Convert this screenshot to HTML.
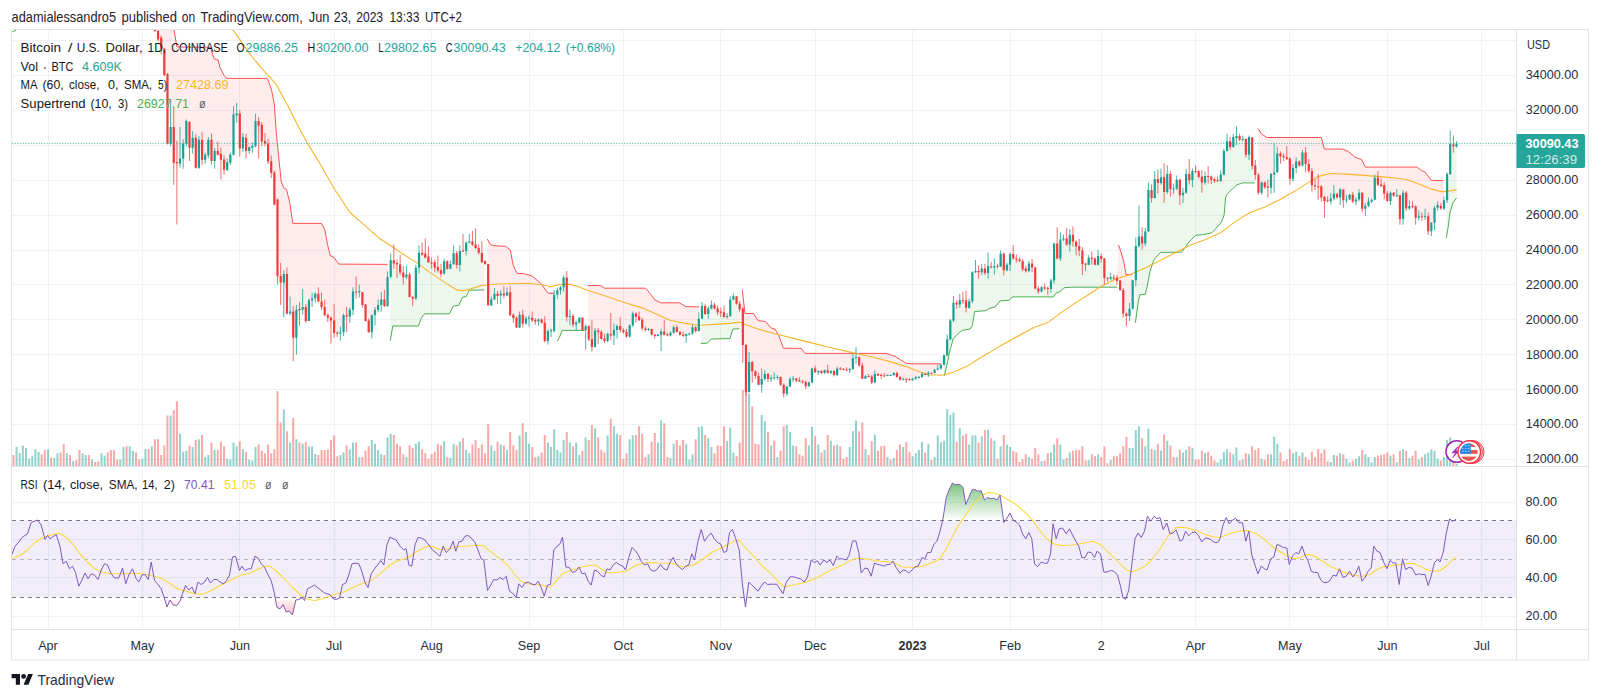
<!DOCTYPE html>
<html lang="en"><head><meta charset="utf-8"><title>BTCUSD chart</title>
<style>html,body{margin:0;padding:0;background:#fff}body{width:1600px;height:699px;position:relative;overflow:hidden;font-family:"Liberation Sans",Arial,sans-serif}</style></head>
<body>
<svg width="1600" height="699" viewBox="0 0 1600 699" style="position:absolute;left:0;top:0">
<defs>
<clipPath id="cm"><rect x="12" y="30" width="1504.5" height="436"/></clipPath>
<clipPath id="cr"><rect x="12" y="467" width="1504.5" height="162"/></clipPath>
<linearGradient id="gob" x1="0" y1="482" x2="0" y2="520.5" gradientUnits="userSpaceOnUse"><stop offset="0" stop-color="#4caf50" stop-opacity="0.75"/><stop offset="1" stop-color="#4caf50" stop-opacity="0.0"/></linearGradient>
<linearGradient id="gos" x1="0" y1="597" x2="0" y2="618" gradientUnits="userSpaceOnUse"><stop offset="0" stop-color="#ff5252" stop-opacity="0.0"/><stop offset="1" stop-color="#ff5252" stop-opacity="0.45"/></linearGradient>
</defs>
<rect x="11.5" y="29.5" width="1577" height="630.5" fill="#fff" stroke="#e0e3eb" stroke-width="1"/>
<path d="M12 40.5H1516.5 M12 75.5H1516.5 M12 110.5H1516.5 M12 145.5H1516.5 M12 180.5H1516.5 M12 215.5H1516.5 M12 250.5H1516.5 M12 284.5H1516.5 M12 319.5H1516.5 M12 354.5H1516.5 M12 389.5H1516.5 M12 424.5H1516.5 M12 459.5H1516.5 M12 502.5H1516.5 M12 539.5H1516.5 M12 577.5H1516.5 M12 616.5H1516.5 M48.5 30V629 M142.5 30V629 M239.5 30V629 M334.5 30V629 M431.5 30V629 M529.5 30V629 M623.5 30V629 M720.5 30V629 M815.5 30V629 M912.5 30V629 M1010.5 30V629 M1101.5 30V629 M1195.5 30V629 M1289.5 30V629 M1387.5 30V629 M1481.5 30V629" stroke="#f1f2f5" stroke-width="1" fill="none"/>
<path d="M12 466.5H1588.5M12 629.5H1588.5M1516.5 30V660" stroke="#e0e3eb" stroke-width="1" fill="none"/>
<g clip-path="url(#cm)">
<path d="M15.56 447.0h2V466h-2zM18.70 453.0h2V466h-2zM21.85 445.5h2V466h-2zM24.99 448.0h2V466h-2zM28.14 458.8h2V466h-2zM31.28 456.2h2V466h-2zM34.42 449.2h2V466h-2zM37.57 451.8h2V466h-2zM47.00 449.2h2V466h-2zM53.29 458.0h2V466h-2zM56.43 453.2h2V466h-2zM65.86 453.2h2V466h-2zM72.15 461.2h2V466h-2zM81.58 453.2h2V466h-2zM84.73 455.0h2V466h-2zM91.02 459.5h2V466h-2zM100.45 453.2h2V466h-2zM103.59 455.8h2V466h-2zM119.31 459.5h2V466h-2zM122.46 447.0h2V466h-2zM128.74 446.2h2V466h-2zM131.89 450.8h2V466h-2zM141.32 458.8h2V466h-2zM144.46 449.2h2V466h-2zM150.75 446.2h2V466h-2zM169.62 415.5h2V466h-2zM179.05 433.8h2V466h-2zM182.19 451.8h2V466h-2zM185.34 450.8h2V466h-2zM191.62 447.0h2V466h-2zM197.91 439.2h2V466h-2zM204.20 457.0h2V466h-2zM207.34 455.0h2V466h-2zM213.63 450.0h2V466h-2zM226.21 458.8h2V466h-2zM229.35 459.5h2V466h-2zM232.50 442.5h2V466h-2zM235.64 446.2h2V466h-2zM241.93 449.2h2V466h-2zM248.22 459.5h2V466h-2zM251.36 460.5h2V466h-2zM254.50 447.0h2V466h-2zM282.80 409.5h2V466h-2zM289.09 442.5h2V466h-2zM295.38 439.2h2V466h-2zM301.66 443.8h2V466h-2zM307.95 446.2h2V466h-2zM311.10 446.2h2V466h-2zM314.24 454.2h2V466h-2zM339.39 455.0h2V466h-2zM342.54 452.5h2V466h-2zM348.82 449.2h2V466h-2zM351.97 442.5h2V466h-2zM358.26 457.0h2V466h-2zM370.83 440.0h2V466h-2zM373.98 443.8h2V466h-2zM377.12 450.0h2V466h-2zM380.26 454.2h2V466h-2zM386.55 437.5h2V466h-2zM389.70 433.8h2V466h-2zM405.42 457.0h2V466h-2zM414.85 443.8h2V466h-2zM417.99 441.8h2V466h-2zM443.14 441.2h2V466h-2zM449.43 458.0h2V466h-2zM452.58 443.8h2V466h-2zM458.86 441.8h2V466h-2zM465.15 450.0h2V466h-2zM468.30 453.2h2V466h-2zM490.30 445.5h2V466h-2zM493.45 450.8h2V466h-2zM499.74 444.5h2V466h-2zM506.02 450.0h2V466h-2zM518.60 435.5h2V466h-2zM524.89 432.0h2V466h-2zM528.03 443.8h2V466h-2zM537.46 456.2h2V466h-2zM546.90 442.5h2V466h-2zM550.04 447.0h2V466h-2zM553.18 429.2h2V466h-2zM556.33 450.0h2V466h-2zM559.47 452.5h2V466h-2zM562.62 440.0h2V466h-2zM568.90 442.5h2V466h-2zM575.19 442.5h2V466h-2zM578.34 455.0h2V466h-2zM584.62 437.5h2V466h-2zM594.06 428.2h2V466h-2zM606.63 435.5h2V466h-2zM612.92 426.2h2V466h-2zM616.06 433.8h2V466h-2zM628.64 439.2h2V466h-2zM631.78 435.5h2V466h-2zM647.50 454.2h2V466h-2zM656.94 442.5h2V466h-2zM660.08 420.5h2V466h-2zM669.51 458.0h2V466h-2zM672.66 443.8h2V466h-2zM685.23 443.8h2V466h-2zM688.38 459.5h2V466h-2zM691.52 454.2h2V466h-2zM697.81 427.0h2V466h-2zM700.95 426.2h2V466h-2zM707.24 438.2h2V466h-2zM710.38 447.0h2V466h-2zM726.10 440.8h2V466h-2zM729.25 427.5h2V466h-2zM732.39 452.5h2V466h-2zM748.11 393.8h2V466h-2zM760.69 415.0h2V466h-2zM763.83 421.2h2V466h-2zM770.12 445.5h2V466h-2zM776.41 457.0h2V466h-2zM785.84 425.0h2V466h-2zM788.98 432.0h2V466h-2zM792.13 445.5h2V466h-2zM807.85 445.5h2V466h-2zM810.99 426.8h2V466h-2zM817.28 444.5h2V466h-2zM823.57 450.0h2V466h-2zM829.86 440.8h2V466h-2zM836.14 444.5h2V466h-2zM848.72 447.0h2V466h-2zM851.86 431.2h2V466h-2zM855.01 420.5h2V466h-2zM864.44 449.2h2V466h-2zM873.87 434.5h2V466h-2zM886.45 457.0h2V466h-2zM892.74 458.0h2V466h-2zM902.17 447.0h2V466h-2zM911.60 456.2h2V466h-2zM914.74 453.2h2V466h-2zM917.89 450.0h2V466h-2zM921.03 441.8h2V466h-2zM927.32 443.8h2V466h-2zM933.61 457.0h2V466h-2zM936.75 435.5h2V466h-2zM939.90 442.5h2V466h-2zM943.04 440.8h2V466h-2zM946.18 409.2h2V466h-2zM949.33 415.0h2V466h-2zM952.47 412.5h2V466h-2zM958.76 428.2h2V466h-2zM968.19 444.5h2V466h-2zM971.34 435.5h2V466h-2zM974.48 435.5h2V466h-2zM980.77 436.2h2V466h-2zM987.06 430.0h2V466h-2zM993.34 440.8h2V466h-2zM999.63 446.2h2V466h-2zM1005.92 444.5h2V466h-2zM1009.06 447.0h2V466h-2zM1027.93 457.0h2V466h-2zM1040.50 461.2h2V466h-2zM1049.94 452.5h2V466h-2zM1053.08 444.5h2V466h-2zM1059.37 444.5h2V466h-2zM1062.51 459.5h2V466h-2zM1068.80 452.5h2V466h-2zM1087.66 460.0h2V466h-2zM1097.10 454.2h2V466h-2zM1109.67 460.0h2V466h-2zM1128.54 448.0h2V466h-2zM1131.68 448.0h2V466h-2zM1134.82 430.0h2V466h-2zM1137.97 426.2h2V466h-2zM1144.26 446.2h2V466h-2zM1147.40 428.8h2V466h-2zM1153.69 450.0h2V466h-2zM1159.98 450.8h2V466h-2zM1166.26 440.8h2V466h-2zM1175.70 457.0h2V466h-2zM1181.98 452.5h2V466h-2zM1185.13 450.0h2V466h-2zM1191.42 448.0h2V466h-2zM1203.99 453.2h2V466h-2zM1216.57 462.5h2V466h-2zM1219.71 459.5h2V466h-2zM1222.86 451.8h2V466h-2zM1226.00 449.2h2V466h-2zM1232.29 454.2h2V466h-2zM1235.43 447.5h2V466h-2zM1241.72 459.5h2V466h-2zM1248.01 454.2h2V466h-2zM1260.58 458.8h2V466h-2zM1270.02 454.2h2V466h-2zM1273.16 436.8h2V466h-2zM1276.30 443.8h2V466h-2zM1292.02 453.2h2V466h-2zM1295.17 451.8h2V466h-2zM1301.46 452.5h2V466h-2zM1329.75 462.0h2V466h-2zM1332.90 455.0h2V466h-2zM1339.18 453.2h2V466h-2zM1345.47 458.8h2V466h-2zM1348.62 462.5h2V466h-2zM1354.90 458.8h2V466h-2zM1358.05 456.2h2V466h-2zM1364.34 454.2h2V466h-2zM1367.48 457.0h2V466h-2zM1370.62 462.5h2V466h-2zM1373.77 457.0h2V466h-2zM1389.49 455.8h2V466h-2zM1395.78 462.0h2V466h-2zM1402.06 449.2h2V466h-2zM1408.35 458.0h2V466h-2zM1417.78 459.5h2V466h-2zM1424.07 454.2h2V466h-2zM1427.22 452.5h2V466h-2zM1430.36 449.2h2V466h-2zM1433.50 450.8h2V466h-2zM1436.65 458.8h2V466h-2zM1442.94 457.0h2V466h-2zM1446.08 440.0h2V466h-2zM1449.22 437.5h2V466h-2zM1455.51 463.8h2V466h-2z" fill="#26a69a" fill-opacity="0.5"/>
<path d="M12.42 455.0h2V466h-2zM40.71 454.2h2V466h-2zM43.86 450.0h2V466h-2zM50.14 457.5h2V466h-2zM59.58 452.5h2V466h-2zM62.72 443.8h2V466h-2zM69.01 455.0h2V466h-2zM75.30 460.0h2V466h-2zM78.44 450.0h2V466h-2zM87.87 455.0h2V466h-2zM94.16 462.0h2V466h-2zM97.30 461.2h2V466h-2zM106.74 452.5h2V466h-2zM109.88 450.0h2V466h-2zM113.02 450.0h2V466h-2zM116.17 459.5h2V466h-2zM125.60 446.2h2V466h-2zM135.03 452.5h2V466h-2zM138.18 459.5h2V466h-2zM147.61 449.2h2V466h-2zM153.90 439.2h2V466h-2zM157.04 439.2h2V466h-2zM160.18 455.0h2V466h-2zM163.33 445.5h2V466h-2zM166.47 415.5h2V466h-2zM172.76 410.0h2V466h-2zM175.90 401.2h2V466h-2zM188.48 445.5h2V466h-2zM194.77 440.0h2V466h-2zM201.06 435.0h2V466h-2zM210.49 442.5h2V466h-2zM216.78 450.0h2V466h-2zM219.92 441.8h2V466h-2zM223.06 446.2h2V466h-2zM238.78 441.2h2V466h-2zM245.07 451.8h2V466h-2zM257.65 444.5h2V466h-2zM260.79 450.8h2V466h-2zM263.94 453.2h2V466h-2zM267.08 444.5h2V466h-2zM270.22 453.2h2V466h-2zM273.37 449.2h2V466h-2zM276.51 391.2h2V466h-2zM279.66 422.5h2V466h-2zM285.94 431.2h2V466h-2zM292.23 418.0h2V466h-2zM298.52 442.5h2V466h-2zM304.81 441.8h2V466h-2zM317.38 455.0h2V466h-2zM320.53 450.0h2V466h-2zM323.67 450.0h2V466h-2zM326.82 449.2h2V466h-2zM329.96 440.0h2V466h-2zM333.10 435.5h2V466h-2zM336.25 456.2h2V466h-2zM345.68 445.5h2V466h-2zM355.11 442.5h2V466h-2zM361.40 457.0h2V466h-2zM364.54 450.8h2V466h-2zM367.69 446.2h2V466h-2zM383.41 455.0h2V466h-2zM392.84 435.0h2V466h-2zM395.98 443.8h2V466h-2zM399.13 446.2h2V466h-2zM402.27 454.2h2V466h-2zM408.56 445.5h2V466h-2zM411.70 448.0h2V466h-2zM421.14 449.2h2V466h-2zM424.28 453.2h2V466h-2zM427.42 458.8h2V466h-2zM430.57 454.2h2V466h-2zM433.71 451.8h2V466h-2zM436.86 443.8h2V466h-2zM440.00 445.5h2V466h-2zM446.29 457.0h2V466h-2zM455.72 445.5h2V466h-2zM462.01 438.2h2V466h-2zM471.44 444.5h2V466h-2zM474.58 440.0h2V466h-2zM477.73 448.0h2V466h-2zM480.87 444.5h2V466h-2zM484.02 453.2h2V466h-2zM487.16 424.2h2V466h-2zM496.59 441.8h2V466h-2zM502.88 445.5h2V466h-2zM509.17 432.0h2V466h-2zM512.31 445.5h2V466h-2zM515.46 450.0h2V466h-2zM521.74 423.2h2V466h-2zM531.18 447.0h2V466h-2zM534.32 457.0h2V466h-2zM540.61 452.5h2V466h-2zM543.75 435.0h2V466h-2zM565.76 432.0h2V466h-2zM572.05 446.2h2V466h-2zM581.48 450.8h2V466h-2zM587.77 440.0h2V466h-2zM590.91 425.0h2V466h-2zM597.20 437.5h2V466h-2zM600.34 450.0h2V466h-2zM603.49 452.5h2V466h-2zM609.78 418.8h2V466h-2zM619.21 435.0h2V466h-2zM622.35 458.8h2V466h-2zM625.50 453.2h2V466h-2zM634.93 435.0h2V466h-2zM638.07 426.2h2V466h-2zM641.22 433.8h2V466h-2zM644.36 457.0h2V466h-2zM650.65 441.8h2V466h-2zM653.79 433.0h2V466h-2zM663.22 423.2h2V466h-2zM666.37 457.0h2V466h-2zM675.80 440.0h2V466h-2zM678.94 445.5h2V466h-2zM682.09 440.0h2V466h-2zM694.66 439.2h2V466h-2zM704.10 435.0h2V466h-2zM713.53 453.2h2V466h-2zM716.67 445.5h2V466h-2zM719.82 446.2h2V466h-2zM722.96 426.2h2V466h-2zM735.54 456.2h2V466h-2zM738.68 442.5h2V466h-2zM741.82 390.0h2V466h-2zM744.97 388.0h2V466h-2zM751.26 406.2h2V466h-2zM754.40 443.8h2V466h-2zM757.54 444.5h2V466h-2zM766.98 432.0h2V466h-2zM773.26 440.8h2V466h-2zM779.55 450.8h2V466h-2zM782.70 426.2h2V466h-2zM795.27 446.2h2V466h-2zM798.42 454.2h2V466h-2zM801.56 455.8h2V466h-2zM804.70 438.2h2V466h-2zM814.14 436.2h2V466h-2zM820.42 452.5h2V466h-2zM826.71 435.0h2V466h-2zM833.00 445.5h2V466h-2zM839.29 446.2h2V466h-2zM842.43 458.8h2V466h-2zM845.58 457.0h2V466h-2zM858.15 431.2h2V466h-2zM861.30 422.5h2V466h-2zM867.58 455.0h2V466h-2zM870.73 441.2h2V466h-2zM877.02 450.8h2V466h-2zM880.16 446.2h2V466h-2zM883.30 445.5h2V466h-2zM889.59 459.5h2V466h-2zM895.88 450.0h2V466h-2zM899.02 444.5h2V466h-2zM905.31 442.0h2V466h-2zM908.46 451.8h2V466h-2zM924.18 452.5h2V466h-2zM930.46 460.0h2V466h-2zM955.62 441.8h2V466h-2zM961.90 435.5h2V466h-2zM965.05 433.8h2V466h-2zM977.62 442.5h2V466h-2zM983.91 430.0h2V466h-2zM990.20 438.2h2V466h-2zM996.49 458.8h2V466h-2zM1002.78 435.0h2V466h-2zM1012.21 450.8h2V466h-2zM1015.35 452.5h2V466h-2zM1018.50 462.0h2V466h-2zM1021.64 459.5h2V466h-2zM1024.78 454.2h2V466h-2zM1031.07 458.8h2V466h-2zM1034.22 448.0h2V466h-2zM1037.36 454.2h2V466h-2zM1043.65 460.5h2V466h-2zM1046.79 453.2h2V466h-2zM1056.22 438.2h2V466h-2zM1065.66 458.0h2V466h-2zM1071.94 450.8h2V466h-2zM1075.09 450.0h2V466h-2zM1078.23 450.0h2V466h-2zM1081.38 446.2h2V466h-2zM1084.52 460.5h2V466h-2zM1090.81 454.2h2V466h-2zM1093.95 456.2h2V466h-2zM1100.24 457.0h2V466h-2zM1103.38 446.2h2V466h-2zM1106.53 463.2h2V466h-2zM1112.82 456.2h2V466h-2zM1115.96 456.2h2V466h-2zM1119.10 453.2h2V466h-2zM1122.25 446.2h2V466h-2zM1125.39 437.0h2V466h-2zM1141.11 438.2h2V466h-2zM1150.54 448.8h2V466h-2zM1156.83 443.8h2V466h-2zM1163.12 434.5h2V466h-2zM1169.41 445.5h2V466h-2zM1172.55 457.0h2V466h-2zM1178.84 450.0h2V466h-2zM1188.27 446.2h2V466h-2zM1194.56 459.5h2V466h-2zM1197.70 459.5h2V466h-2zM1200.85 450.8h2V466h-2zM1207.14 451.8h2V466h-2zM1210.28 455.8h2V466h-2zM1213.42 460.5h2V466h-2zM1229.14 452.5h2V466h-2zM1238.58 460.5h2V466h-2zM1244.86 453.2h2V466h-2zM1251.15 446.2h2V466h-2zM1254.30 450.0h2V466h-2zM1257.44 448.0h2V466h-2zM1263.73 460.0h2V466h-2zM1266.87 454.2h2V466h-2zM1279.45 452.5h2V466h-2zM1282.59 461.2h2V466h-2zM1285.74 459.5h2V466h-2zM1288.88 449.2h2V466h-2zM1298.31 455.8h2V466h-2zM1304.60 457.0h2V466h-2zM1307.74 460.0h2V466h-2zM1310.89 451.8h2V466h-2zM1314.03 457.0h2V466h-2zM1317.18 449.2h2V466h-2zM1320.32 453.2h2V466h-2zM1323.46 449.2h2V466h-2zM1326.61 461.2h2V466h-2zM1336.04 455.8h2V466h-2zM1342.33 454.2h2V466h-2zM1351.76 460.5h2V466h-2zM1361.19 450.0h2V466h-2zM1376.91 455.8h2V466h-2zM1380.06 455.0h2V466h-2zM1383.20 454.2h2V466h-2zM1386.34 452.5h2V466h-2zM1392.63 454.2h2V466h-2zM1398.92 450.8h2V466h-2zM1405.21 450.8h2V466h-2zM1411.50 455.8h2V466h-2zM1414.64 450.8h2V466h-2zM1420.93 457.0h2V466h-2zM1439.79 460.5h2V466h-2zM1452.37 459.5h2V466h-2z" fill="#ef5350" fill-opacity="0.5"/>
<polygon points="137.5,18.7 174.1,26.2 174.1,30.0 176.9,46.9 210.6,47.3 212.5,54.4 214.4,59.1 218.1,60.0 220.0,67.5 223.8,75.0 226.6,78.4 267.4,78.4 271.6,90.0 274.4,105.0 276.3,133.1 279.1,161.1 281.3,181.9 284.1,188.4 286.5,189.4 289.7,202.5 292.5,221.1 292.8,223.4 321.5,223.4 324.7,229.4 327.5,244.4 330.3,255.6 334.1,257.5 338.8,264.1 387.5,264.4 387.6,290.2 384.4,300.5 381.3,302.0 378.1,306.6 375.0,314.4 371.8,325.1 368.7,326.0 365.5,312.8 362.4,299.2 359.3,291.4 356.1,289.7 353.0,300.9 349.8,314.2 346.7,317.8 343.5,324.2 340.4,333.2 337.2,333.6 334.1,323.8 331.0,324.5 327.8,317.1 324.7,309.5 321.5,302.8 318.4,296.2 315.2,296.6 312.1,299.6 309.0,310.2 305.8,313.7 302.7,305.0 299.5,311.8 296.4,326.8 293.2,329.1 290.1,309.2 286.9,292.3 283.8,286.0 280.7,281.6 277.5,239.7 274.4,188.2 271.2,167.0 268.1,152.0 264.9,141.0 261.8,133.6 258.6,130.5 255.5,132.0 252.4,147.2 249.2,149.5 246.1,145.3 242.9,142.6 239.8,132.0 236.6,113.7 233.5,132.7 230.4,158.8 227.2,165.4 224.1,164.9 220.9,160.1 217.8,150.7 214.6,157.2 211.5,149.7 208.3,147.7 205.2,157.7 202.1,149.2 198.9,153.0 195.8,152.1 192.6,142.6 189.5,137.9 186.3,132.6 183.2,152.4 180.0,154.2 176.9,172.7 173.8,145.4 170.6,129.0 167.5,108.8 164.3,61.9 161.2,44.1 158.0,34.5 154.9,9.6 151.8,-60.0 148.6,-60.0 145.5,-60.0 142.3,-60.0 139.2,-60.0 136.0,-60.0" fill="#ff5252" fill-opacity="0.1"/>
<polygon points="390.3,340.6 392.8,326.0 418.4,326.0 421.3,318.1 424.1,314.4 425.0,313.8 449.4,313.8 453.1,306.3 458.8,305.3 462.5,297.3 466.3,296.5 469.1,290.3 484.4,289.9 485.0,262.7 481.9,254.9 478.7,250.0 475.6,242.5 472.4,240.8 469.3,240.4 466.2,247.7 463.0,247.0 459.9,258.2 456.7,259.5 453.6,256.9 450.4,265.5 447.3,265.0 444.1,266.9 441.0,271.4 437.9,266.4 434.7,265.5 431.6,263.0 428.4,257.0 425.3,252.0 422.1,251.4 419.0,259.8 415.8,282.7 412.7,299.4 409.6,285.3 406.4,274.1 403.3,275.1 400.1,266.8 397.0,266.3 393.8,259.2 390.7,267.2" fill="#4caf50" fill-opacity="0.1"/>
<polygon points="487.3,239.1 490.6,244.8 496.3,245.9 505.6,246.3 510.3,250.0 513.1,265.0 516.9,273.4 524.4,273.8 531.9,275.9 541.3,283.8 547.8,293.1 553.4,293.5 550.0,293.4 553.8,293.4 554.2,312.0 551.0,331.7 547.9,336.5 544.8,330.6 541.6,321.2 538.5,321.3 535.3,321.1 532.2,317.9 529.0,319.5 525.9,320.7 522.7,318.9 519.6,320.4 516.5,322.3 513.3,317.3 510.2,302.5 507.0,292.9 503.9,293.4 500.7,295.8 497.6,296.2 494.4,295.4 491.3,301.8 488.2,284.7" fill="#ff5252" fill-opacity="0.1"/>
<polygon points="557.1,341.3 559.4,337.5 562.2,330.4 584.7,330.4 585.6,332.6 582.5,323.9 579.3,320.2 576.2,324.6 573.0,320.4 569.9,316.9 566.8,296.7 563.6,283.0 560.5,289.5 557.3,293.0" fill="#4caf50" fill-opacity="0.1"/>
<polygon points="587.5,285.6 600.6,285.6 604.4,288.2 645.6,288.2 649.4,292.5 655.0,300.0 660.6,302.8 679.4,302.8 685.9,306.6 699.1,306.9 698.8,323.3 695.7,329.2 692.5,329.9 689.4,333.9 686.2,336.7 683.1,334.9 679.9,333.3 676.8,329.1 673.7,329.8 670.5,334.0 667.4,334.8 664.2,330.4 661.1,336.4 657.9,335.3 654.8,335.7 651.6,332.0 648.5,329.5 645.4,329.1 642.2,324.1 639.1,317.3 635.9,316.3 632.8,319.4 629.6,330.9 626.5,333.8 623.4,331.0 620.2,326.4 617.1,329.7 613.9,333.5 610.8,330.7 607.6,337.4 604.5,339.0 601.3,335.2 598.2,333.6 595.1,338.2 591.9,339.4 588.8,333.0" fill="#ff5252" fill-opacity="0.1"/>
<polygon points="700.9,343.5 707.5,343.1 711.3,339.0 730.0,338.6 732.8,329.1 739.4,328.7 739.7,306.6 736.5,300.1 733.4,297.3 730.2,307.2 727.1,316.2 724.0,313.1 720.8,312.2 717.7,310.3 714.5,306.3 711.4,305.7 708.2,312.0 705.1,309.7 702.0,311.4" fill="#4caf50" fill-opacity="0.1"/>
<polygon points="742.2,289.7 745.0,313.5 753.4,313.5 758.1,320.6 765.6,321.6 771.3,328.1 775.0,329.1 778.8,335.6 783.4,348.2 801.3,348.4 805.0,353.4 885.6,353.4 895.0,356.3 906.3,363.4 911.9,363.8 940.9,363.8 940.9,366.6 937.8,368.3 934.6,371.3 931.5,372.9 928.3,373.9 925.2,374.1 922.0,375.2 918.9,377.1 915.7,377.9 912.6,379.4 909.5,379.6 906.3,379.9 903.2,379.2 900.0,378.3 896.9,374.9 893.7,374.1 890.6,375.1 887.4,375.5 884.3,375.2 881.2,375.7 878.0,374.6 874.9,377.4 871.7,379.5 868.6,375.9 865.4,377.2 862.3,371.6 859.2,361.4 856.0,356.6 852.9,362.6 849.7,370.1 846.6,369.6 843.4,369.2 840.3,368.8 837.1,371.5 834.0,373.2 830.9,372.0 827.7,370.3 824.6,371.7 821.4,372.1 818.3,372.1 815.1,369.8 812.0,375.5 808.8,384.3 805.7,384.4 802.6,381.8 799.4,380.3 796.3,379.8 793.1,378.9 790.0,382.5 786.8,390.7 783.7,389.9 780.6,381.0 777.4,377.2 774.3,376.7 771.1,378.5 768.0,377.0 764.8,376.0 761.7,381.3 758.5,379.5 755.4,374.1 752.3,369.1 749.1,374.7 746.0,369.1 742.8,330.7" fill="#ff5252" fill-opacity="0.1"/>
<polygon points="944.3,375.9 947.5,361.9 950.3,348.8 951.3,346.1 953.1,338.8 958.8,332.8 962.5,330.3 970.0,329.0 972.3,325.6 974.7,311.6 985.9,310.6 989.7,308.4 995.3,306.9 1000.0,300.9 1009.4,300.3 1012.2,296.9 1053.4,296.9 1056.3,292.8 1060.0,291.9 1063.8,287.8 1071.3,287.2 1117.2,287.2 1117.0,279.5 1113.8,277.4 1110.7,277.3 1107.5,278.8 1104.4,269.7 1101.2,257.8 1098.1,259.0 1095.0,261.4 1091.8,258.3 1088.7,260.8 1085.5,265.4 1082.4,259.2 1079.2,248.0 1076.1,245.9 1072.9,237.4 1069.8,240.0 1066.7,239.3 1063.5,238.4 1060.4,247.8 1057.2,247.2 1054.1,262.6 1050.9,285.3 1047.8,289.5 1044.6,287.3 1041.5,289.2 1038.4,290.0 1035.2,278.0 1032.1,265.5 1028.9,266.8 1025.8,269.4 1022.6,265.2 1019.5,259.9 1016.4,258.8 1013.2,254.3 1010.1,260.5 1006.9,267.3 1003.8,263.0 1000.6,259.4 997.5,266.1 994.3,266.7 991.2,266.1 988.1,267.5 984.9,270.1 981.8,269.9 978.6,271.9 975.5,269.0 972.3,287.0 969.2,304.1 966.0,302.9 962.9,299.3 959.8,301.6 956.6,304.1 953.5,310.3 950.3,329.8 947.2,346.3 944.0,360.0" fill="#4caf50" fill-opacity="0.1"/>
<polygon points="1118.5,245.0 1120.9,251.6 1123.8,261.9 1126.0,274.6 1132.2,274.6 1132.7,294.6 1129.5,312.1 1126.4,317.1 1123.2,302.3 1120.1,285.3 1117.0,279.5" fill="#ff5252" fill-opacity="0.1"/>
<polygon points="1135.4,322.8 1137.8,305.0 1139.7,294.7 1145.3,294.3 1147.2,286.3 1150.0,271.3 1153.8,260.0 1160.3,252.5 1181.9,252.1 1185.6,246.9 1189.4,241.3 1195.9,235.3 1202.5,234.7 1211.9,232.8 1221.3,222.5 1224.1,215.0 1225.6,197.5 1226.6,194.7 1231.3,190.0 1236.9,184.8 1242.5,182.9 1254.7,182.9 1255.3,170.1 1252.2,152.5 1249.0,146.9 1245.9,147.5 1242.7,138.8 1239.6,137.5 1236.4,136.3 1233.3,141.4 1230.1,143.6 1227.0,144.4 1223.9,162.4 1220.7,177.0 1217.6,180.0 1214.4,180.3 1211.3,178.9 1208.1,175.6 1205.0,178.6 1201.8,180.5 1198.7,174.3 1195.6,170.2 1192.4,176.7 1189.3,174.4 1186.1,182.3 1183.0,194.7 1179.8,189.7 1176.7,183.4 1173.6,188.7 1170.4,182.7 1167.3,181.3 1164.1,183.8 1161.0,178.3 1157.8,181.2 1154.7,186.6 1151.5,193.8 1148.4,209.0 1145.3,237.3 1142.1,239.2 1139.0,234.0 1135.8,262.5" fill="#4caf50" fill-opacity="0.1"/>
<polygon points="1258.1,128.5 1261.3,133.8 1266.9,137.5 1321.3,137.5 1324.4,149.1 1342.8,149.1 1348.4,151.6 1355.0,157.2 1361.6,159.6 1365.3,167.1 1416.9,167.1 1421.9,170.9 1424.7,171.6 1431.3,180.3 1443.4,180.6 1443.9,203.8 1440.8,206.8 1437.6,206.2 1434.5,216.7 1431.4,228.0 1428.2,223.8 1425.1,215.5 1421.9,216.7 1418.8,216.3 1415.6,213.6 1412.5,205.6 1409.4,206.1 1406.2,200.8 1403.1,206.6 1399.9,208.4 1396.8,194.3 1393.6,194.4 1390.5,197.5 1387.3,196.7 1384.2,190.2 1381.1,184.0 1377.9,179.8 1374.8,188.1 1371.6,200.7 1368.5,203.0 1365.3,208.5 1362.2,201.6 1359.0,195.6 1355.9,200.9 1352.8,197.8 1349.6,197.0 1346.5,199.4 1343.3,196.7 1340.2,195.1 1337.0,195.7 1333.9,194.5 1330.8,199.3 1327.6,200.1 1324.5,202.8 1321.3,192.7 1318.2,186.7 1315.0,185.2 1311.9,178.9 1308.7,166.8 1305.6,158.9 1302.5,158.6 1299.3,163.6 1296.2,164.9 1293.0,173.1 1289.9,169.8 1286.7,155.5 1283.6,156.9 1280.4,156.3 1277.3,161.4 1274.2,170.7 1271.0,182.2 1267.9,187.9 1264.7,185.1 1261.6,187.9 1258.4,183.9" fill="#ff5252" fill-opacity="0.1"/>
<polygon points="1446.3,237.8 1448.1,227.5 1450.0,212.5 1452.8,203.1 1456.6,197.9 1456.5,144.8 1453.4,144.8 1450.2,155.9 1447.1,187.4" fill="#4caf50" fill-opacity="0.1"/>
<polyline points="137.5,18.7 174.1,26.2 174.1,30.0 176.9,46.9 210.6,47.3 212.5,54.4 214.4,59.1 218.1,60.0 220.0,67.5 223.8,75.0 226.6,78.4 267.4,78.4 271.6,90.0 274.4,105.0 276.3,133.1 279.1,161.1 281.3,181.9 284.1,188.4 286.5,189.4 289.7,202.5 292.5,221.1 292.8,223.4 321.5,223.4 324.7,229.4 327.5,244.4 330.3,255.6 334.1,257.5 338.8,264.1 387.5,264.4" fill="none" stroke="#ff5252" stroke-width="1" stroke-linejoin="round"/>
<polyline points="390.3,340.6 392.8,326.0 418.4,326.0 421.3,318.1 424.1,314.4 425.0,313.8 449.4,313.8 453.1,306.3 458.8,305.3 462.5,297.3 466.3,296.5 469.1,290.3 484.4,289.9" fill="none" stroke="#4caf50" stroke-width="1" stroke-linejoin="round"/>
<polyline points="487.3,239.1 490.6,244.8 496.3,245.9 505.6,246.3 510.3,250.0 513.1,265.0 516.9,273.4 524.4,273.8 531.9,275.9 541.3,283.8 547.8,293.1 553.4,293.5 550.0,293.4 553.8,293.4" fill="none" stroke="#ff5252" stroke-width="1" stroke-linejoin="round"/>
<polyline points="557.1,341.3 559.4,337.5 562.2,330.4 584.7,330.4" fill="none" stroke="#4caf50" stroke-width="1" stroke-linejoin="round"/>
<polyline points="587.5,285.6 600.6,285.6 604.4,288.2 645.6,288.2 649.4,292.5 655.0,300.0 660.6,302.8 679.4,302.8 685.9,306.6 699.1,306.9" fill="none" stroke="#ff5252" stroke-width="1" stroke-linejoin="round"/>
<polyline points="700.9,343.5 707.5,343.1 711.3,339.0 730.0,338.6 732.8,329.1 739.4,328.7" fill="none" stroke="#4caf50" stroke-width="1" stroke-linejoin="round"/>
<polyline points="742.2,289.7 745.0,313.5 753.4,313.5 758.1,320.6 765.6,321.6 771.3,328.1 775.0,329.1 778.8,335.6 783.4,348.2 801.3,348.4 805.0,353.4 885.6,353.4 895.0,356.3 906.3,363.4 911.9,363.8 940.9,363.8" fill="none" stroke="#ff5252" stroke-width="1" stroke-linejoin="round"/>
<polyline points="944.3,375.9 947.5,361.9 950.3,348.8 951.3,346.1 953.1,338.8 958.8,332.8 962.5,330.3 970.0,329.0 972.3,325.6 974.7,311.6 985.9,310.6 989.7,308.4 995.3,306.9 1000.0,300.9 1009.4,300.3 1012.2,296.9 1053.4,296.9 1056.3,292.8 1060.0,291.9 1063.8,287.8 1071.3,287.2 1117.2,287.2" fill="none" stroke="#4caf50" stroke-width="1" stroke-linejoin="round"/>
<polyline points="1118.5,245.0 1120.9,251.6 1123.8,261.9 1126.0,274.6 1132.2,274.6" fill="none" stroke="#ff5252" stroke-width="1" stroke-linejoin="round"/>
<polyline points="1135.4,322.8 1137.8,305.0 1139.7,294.7 1145.3,294.3 1147.2,286.3 1150.0,271.3 1153.8,260.0 1160.3,252.5 1181.9,252.1 1185.6,246.9 1189.4,241.3 1195.9,235.3 1202.5,234.7 1211.9,232.8 1221.3,222.5 1224.1,215.0 1225.6,197.5 1226.6,194.7 1231.3,190.0 1236.9,184.8 1242.5,182.9 1254.7,182.9" fill="none" stroke="#4caf50" stroke-width="1" stroke-linejoin="round"/>
<polyline points="1258.1,128.5 1261.3,133.8 1266.9,137.5 1321.3,137.5 1324.4,149.1 1342.8,149.1 1348.4,151.6 1355.0,157.2 1361.6,159.6 1365.3,167.1 1416.9,167.1 1421.9,170.9 1424.7,171.6 1431.3,180.3 1443.4,180.6" fill="none" stroke="#ff5252" stroke-width="1" stroke-linejoin="round"/>
<polyline points="1446.3,237.8 1448.1,227.5 1450.0,212.5 1452.8,203.1 1456.6,197.9" fill="none" stroke="#4caf50" stroke-width="1" stroke-linejoin="round"/>
<polyline points="220.0,15.0 233.1,30.0 239.7,39.4 250.0,54.4 265.0,72.2 276.3,84.4 287.5,105.0 298.8,127.5 308.1,144.4 318.4,161.1 335.0,190.0 342.5,201.3 350.0,212.5 365.0,225.6 380.0,238.8 391.3,246.3 402.5,253.8 417.5,263.1 428.8,271.6 440.0,279.1 449.4,285.6 456.9,289.9 462.5,290.9 470.0,289.0 481.3,285.6 492.5,284.3 507.5,283.8 528.1,283.2 541.3,284.7 548.8,286.2 550.0,286.9 559.4,284.6 568.8,284.1 578.1,286.5 587.5,290.3 606.3,296.3 625.0,302.8 643.8,308.4 655.0,313.5 670.0,320.3 685.0,323.4 700.0,325.3 715.0,324.4 730.0,323.4 739.4,322.1 745.0,324.4 756.3,328.5 775.0,333.8 793.8,338.4 812.5,343.1 831.3,347.8 850.0,352.1 868.8,356.3 887.5,360.9 906.3,366.6 917.5,370.9 928.8,375.0 943.8,375.0 953.1,372.2 966.3,366.6 981.3,357.2 992.5,350.6 1000.0,346.1 1015.0,337.8 1033.8,327.5 1048.8,321.9 1060.0,313.4 1075.0,303.1 1090.0,293.8 1101.3,286.3 1116.3,278.8 1127.5,275.4 1135.0,272.2 1146.3,267.5 1190.0,245.3 1205.0,239.7 1220.0,233.1 1235.0,221.9 1250.0,212.5 1265.0,206.9 1280.0,199.4 1295.0,190.9 1310.0,181.6 1317.5,176.9 1325.0,174.6 1332.5,173.5 1345.6,174.1 1364.4,175.4 1383.1,176.9 1401.9,178.8 1408.8,180.3 1421.9,185.3 1431.3,189.1 1442.5,191.9 1450.0,190.9 1456.6,189.6" fill="none" stroke="#f9b52e" stroke-width="1.1" stroke-linejoin="round"/>
<path d="M170.12 99.4h1V146.3h-1zM179.55 126.9h1V167.8h-1zM182.69 139.1h1V168.8h-1zM185.84 119.6h1V146.3h-1zM192.12 131.3h1V153.8h-1zM198.41 135.9h1V168.8h-1zM204.70 152.8h1V163.5h-1zM207.84 136.9h1V158.4h-1zM214.13 148.1h1V168.8h-1zM226.71 158.4h1V170.6h-1zM229.85 152.8h1V165.0h-1zM233.00 105.9h1V155.6h-1zM236.14 103.1h1V122.8h-1zM242.43 133.1h1V151.9h-1zM248.72 146.3h1V153.8h-1zM251.86 142.5h1V152.8h-1zM255.00 113.8h1V147.2h-1zM283.30 270.3h1V317.2h-1zM289.59 296.6h1V315.3h-1zM295.88 305.0h1V354.7h-1zM302.16 289.1h1V314.4h-1zM308.45 298.4h1V320.9h-1zM311.60 292.8h1V306.9h-1zM314.74 291.9h1V302.2h-1zM339.89 326.6h1V340.6h-1zM343.04 313.4h1V335.9h-1zM349.32 307.8h1V322.8h-1zM352.47 287.2h1V315.3h-1zM358.76 284.8h1V297.5h-1zM371.33 314.4h1V338.4h-1zM374.48 306.9h1V325.6h-1zM377.62 299.4h1V312.5h-1zM380.76 291.9h1V311.6h-1zM387.05 271.3h1V306.9h-1zM390.20 253.4h1V278.1h-1zM405.92 265.9h1V279.1h-1zM415.35 265.0h1V299.7h-1zM418.49 245.3h1V273.4h-1zM443.64 258.4h1V274.4h-1zM449.93 260.3h1V268.8h-1zM453.08 245.3h1V265.0h-1zM459.36 245.3h1V271.6h-1zM465.65 241.6h1V255.6h-1zM468.80 234.1h1V243.4h-1zM490.80 296.6h1V305.9h-1zM493.95 288.1h1V300.3h-1zM500.24 290.0h1V304.1h-1zM506.52 287.2h1V296.6h-1zM519.10 311.6h1V327.9h-1zM525.39 316.3h1V324.7h-1zM528.53 315.3h1V326.6h-1zM537.96 318.5h1V325.6h-1zM547.40 329.4h1V344.4h-1zM550.54 328.4h1V336.9h-1zM553.68 290.0h1V332.2h-1zM556.83 287.8h1V299.1h-1zM559.97 285.9h1V294.4h-1zM563.12 275.6h1V291.6h-1zM569.40 309.4h1V325.3h-1zM575.69 320.6h1V330.9h-1zM578.84 316.9h1V323.4h-1zM585.12 324.4h1V349.7h-1zM594.56 328.1h1V347.3h-1zM607.13 332.8h1V342.2h-1zM613.42 323.4h1V345.0h-1zM616.56 324.4h1V338.4h-1zM629.14 324.4h1V337.5h-1zM632.28 311.6h1V327.2h-1zM648.00 328.1h1V330.9h-1zM657.44 333.8h1V336.6h-1zM660.58 328.5h1V351.0h-1zM670.01 330.9h1V336.6h-1zM673.16 325.3h1V333.8h-1zM685.73 333.8h1V342.8h-1zM688.88 332.8h1V335.3h-1zM692.02 324.4h1V334.7h-1zM698.31 312.2h1V331.5h-1zM701.45 301.9h1V319.1h-1zM707.74 306.6h1V318.8h-1zM710.88 300.4h1V309.4h-1zM726.60 313.1h1V318.8h-1zM729.75 296.3h1V316.9h-1zM732.89 293.4h1V300.0h-1zM748.61 352.1h1V392.8h-1zM761.19 368.4h1V392.8h-1zM764.33 370.3h1V380.6h-1zM770.62 375.0h1V382.1h-1zM773.76 372.2h1V379.7h-1zM776.91 375.0h1V379.7h-1zM786.34 386.3h1V396.0h-1zM789.48 376.9h1V387.2h-1zM792.63 375.9h1V382.1h-1zM808.35 381.6h1V387.2h-1zM811.49 367.5h1V383.4h-1zM817.78 370.3h1V375.0h-1zM824.07 369.4h1V374.1h-1zM830.36 370.3h1V374.1h-1zM836.64 366.6h1V375.9h-1zM849.22 367.9h1V373.1h-1zM852.36 353.4h1V369.8h-1zM855.51 347.3h1V363.8h-1zM864.94 375.0h1V379.1h-1zM874.37 370.3h1V382.9h-1zM886.95 374.6h1V376.3h-1zM890.09 374.4h1V376.0h-1zM893.24 372.2h1V375.9h-1zM902.67 377.8h1V380.6h-1zM912.10 377.8h1V380.6h-1zM915.24 375.9h1V379.7h-1zM918.39 375.9h1V378.4h-1zM921.53 372.2h1V377.8h-1zM927.82 371.3h1V376.9h-1zM934.11 369.0h1V373.5h-1zM937.25 364.7h1V370.3h-1zM940.40 363.8h1V369.4h-1zM943.54 354.4h1V365.6h-1zM946.68 334.6h1V356.2h-1zM949.83 319.1h1V340.3h-1zM952.97 296.0h1V321.9h-1zM959.26 293.8h1V307.8h-1zM968.69 298.4h1V308.8h-1zM971.84 271.3h1V303.1h-1zM974.98 260.0h1V273.1h-1zM981.27 264.1h1V275.0h-1zM987.56 252.5h1V278.4h-1zM993.84 258.5h1V274.6h-1zM1000.13 250.3h1V267.1h-1zM1006.42 262.8h1V271.3h-1zM1009.56 252.5h1V270.9h-1zM1028.43 260.9h1V272.2h-1zM1041.00 285.9h1V292.3h-1zM1050.44 278.8h1V292.8h-1zM1053.58 242.8h1V283.4h-1zM1059.87 232.3h1V260.9h-1zM1063.01 234.7h1V241.3h-1zM1069.30 229.1h1V251.6h-1zM1088.16 255.3h1V265.3h-1zM1097.60 249.7h1V265.6h-1zM1110.17 273.1h1V280.3h-1zM1129.04 302.8h1V320.9h-1zM1132.18 279.7h1V309.7h-1zM1135.32 237.5h1V286.3h-1zM1138.47 205.6h1V247.8h-1zM1144.76 228.1h1V245.9h-1zM1147.90 182.5h1V232.2h-1zM1154.19 170.9h1V198.4h-1zM1160.48 168.4h1V184.8h-1zM1166.76 165.3h1V194.1h-1zM1173.05 183.4h1V193.8h-1zM1176.20 175.4h1V190.0h-1zM1182.48 187.8h1V203.1h-1zM1185.63 168.4h1V193.8h-1zM1191.92 168.4h1V187.2h-1zM1204.49 171.3h1V184.8h-1zM1220.21 170.3h1V182.1h-1zM1223.36 148.8h1V175.4h-1zM1226.50 133.8h1V151.6h-1zM1232.79 133.8h1V147.8h-1zM1235.93 126.3h1V145.0h-1zM1242.22 135.6h1V141.3h-1zM1248.51 135.6h1V160.0h-1zM1261.08 181.6h1V194.7h-1zM1270.52 173.1h1V193.8h-1zM1273.66 143.1h1V192.8h-1zM1276.80 146.9h1V173.1h-1zM1292.52 164.1h1V181.6h-1zM1295.67 157.2h1V173.1h-1zM1301.96 149.7h1V166.6h-1zM1330.25 192.8h1V204.6h-1zM1333.40 185.3h1V200.3h-1zM1339.68 188.1h1V205.0h-1zM1345.97 194.7h1V203.1h-1zM1349.12 193.8h1V200.3h-1zM1355.40 197.5h1V205.0h-1zM1358.55 189.1h1V201.3h-1zM1364.84 203.1h1V216.3h-1zM1367.98 197.5h1V206.9h-1zM1371.12 198.4h1V203.1h-1zM1374.27 174.6h1V200.3h-1zM1389.99 191.5h1V205.0h-1zM1396.28 189.1h1V197.1h-1zM1402.56 190.0h1V224.7h-1zM1408.85 200.3h1V209.7h-1zM1418.28 210.6h1V220.4h-1zM1424.57 208.8h1V220.0h-1zM1430.86 221.9h1V235.9h-1zM1434.00 205.9h1V230.3h-1zM1437.15 201.3h1V210.6h-1zM1443.44 196.6h1V209.7h-1zM1446.58 172.2h1V203.1h-1zM1449.72 130.4h1V175.0h-1zM1456.01 141.3h1V147.8h-1z" fill="#26a69a" fill-opacity="0.85"/>
<path d="M154.40 -16.9h1V31.9h-1zM157.54 26.2h1V41.3h-1zM160.68 35.6h1V54.4h-1zM163.83 47.8h1V75.9h-1zM166.97 73.1h1V144.4h-1zM173.26 106.9h1V184.7h-1zM176.40 140.8h1V224.6h-1zM188.98 120.9h1V160.9h-1zM195.27 134.1h1V168.8h-1zM201.56 132.2h1V165.0h-1zM210.99 133.5h1V164.6h-1zM217.28 141.6h1V155.6h-1zM220.42 147.2h1V179.6h-1zM223.56 155.6h1V174.8h-1zM239.28 109.7h1V156.6h-1zM245.57 134.1h1V158.4h-1zM258.15 117.2h1V158.4h-1zM261.29 121.9h1V146.3h-1zM264.44 133.1h1V146.3h-1zM267.58 138.8h1V164.1h-1zM270.72 155.6h1V178.1h-1zM273.87 170.6h1V205.3h-1zM277.01 198.5h1V284.4h-1zM280.16 262.8h1V305.0h-1zM286.44 267.5h1V314.4h-1zM292.73 305.9h1V361.3h-1zM299.02 302.2h1V325.6h-1zM305.31 304.1h1V322.8h-1zM317.88 287.2h1V302.2h-1zM321.03 292.8h1V309.7h-1zM324.17 299.4h1V316.3h-1zM327.32 313.4h1V321.9h-1zM330.46 316.3h1V343.4h-1zM333.60 304.1h1V337.8h-1zM336.75 331.3h1V336.9h-1zM346.18 306.9h1V332.2h-1zM355.61 276.5h1V298.4h-1zM361.90 291.9h1V307.8h-1zM365.04 304.1h1V321.5h-1zM368.19 318.5h1V332.8h-1zM383.91 290.0h1V306.9h-1zM393.34 244.4h1V268.8h-1zM396.48 259.4h1V278.1h-1zM399.63 254.7h1V275.3h-1zM402.77 265.9h1V284.7h-1zM409.06 272.5h1V297.3h-1zM412.20 295.9h1V306.3h-1zM421.64 242.5h1V255.6h-1zM424.78 238.4h1V258.4h-1zM427.92 246.3h1V263.1h-1zM431.07 257.5h1V268.8h-1zM434.21 259.4h1V272.5h-1zM437.36 255.6h1V272.5h-1zM440.50 264.1h1V277.2h-1zM446.79 260.3h1V269.7h-1zM456.22 250.9h1V268.8h-1zM462.51 234.1h1V251.9h-1zM471.94 230.9h1V245.9h-1zM475.08 228.4h1V249.1h-1zM478.23 244.4h1V254.7h-1zM481.37 241.6h1V263.1h-1zM484.52 260.3h1V265.0h-1zM487.66 263.7h1V305.9h-1zM497.09 290.9h1V304.1h-1zM503.38 286.3h1V298.4h-1zM509.67 286.3h1V316.3h-1zM512.81 313.4h1V322.8h-1zM515.96 316.3h1V327.9h-1zM522.24 309.7h1V327.5h-1zM531.68 311.6h1V321.9h-1zM534.82 318.1h1V324.7h-1zM541.11 318.5h1V323.8h-1zM544.25 316.3h1V342.5h-1zM566.26 270.9h1V321.6h-1zM572.55 314.1h1V327.2h-1zM581.98 317.3h1V330.4h-1zM588.27 325.3h1V341.3h-1zM591.41 320.3h1V351.6h-1zM597.70 328.1h1V344.1h-1zM600.84 330.0h1V339.8h-1zM603.99 333.8h1V343.1h-1zM610.28 313.1h1V340.3h-1zM619.71 316.9h1V332.8h-1zM622.85 328.1h1V333.8h-1zM626.00 329.1h1V337.9h-1zM635.43 312.2h1V322.5h-1zM638.57 311.6h1V321.0h-1zM641.72 317.8h1V330.4h-1zM644.86 326.3h1V331.5h-1zM651.15 328.5h1V335.6h-1zM654.29 333.8h1V338.4h-1zM663.72 319.7h1V335.6h-1zM666.87 332.8h1V336.6h-1zM676.30 324.4h1V332.8h-1zM679.44 330.9h1V335.6h-1zM682.59 331.9h1V337.1h-1zM695.16 325.9h1V332.8h-1zM704.60 303.8h1V315.0h-1zM714.03 302.8h1V309.4h-1zM717.17 305.6h1V315.0h-1zM720.32 307.5h1V316.9h-1zM723.46 305.6h1V317.8h-1zM736.04 295.9h1V304.7h-1zM739.18 300.9h1V312.2h-1zM742.32 306.6h1V362.8h-1zM745.47 344.1h1V395.6h-1zM751.76 360.9h1V382.5h-1zM754.90 370.3h1V378.8h-1zM758.04 372.2h1V385.3h-1zM767.48 372.8h1V382.1h-1zM780.05 376.5h1V385.9h-1zM783.20 383.4h1V397.5h-1zM795.77 377.8h1V382.5h-1zM798.92 377.3h1V382.1h-1zM802.06 379.7h1V383.4h-1zM805.20 380.6h1V389.1h-1zM814.64 365.6h1V373.1h-1zM820.92 370.3h1V374.1h-1zM827.21 364.7h1V373.5h-1zM833.50 370.3h1V376.5h-1zM839.79 367.1h1V370.3h-1zM842.93 367.9h1V370.3h-1zM846.08 367.5h1V371.3h-1zM858.65 356.3h1V366.6h-1zM861.80 362.8h1V379.1h-1zM868.08 374.1h1V377.3h-1zM871.23 375.0h1V384.0h-1zM877.52 373.1h1V375.9h-1zM880.66 373.5h1V378.8h-1zM883.80 373.1h1V376.5h-1zM896.38 371.6h1V377.8h-1zM899.52 375.9h1V380.6h-1zM905.81 378.4h1V382.9h-1zM908.96 378.4h1V380.6h-1zM924.68 372.8h1V375.1h-1zM930.96 372.2h1V373.8h-1zM956.12 300.3h1V308.8h-1zM962.40 291.9h1V304.1h-1zM965.55 290.9h1V312.5h-1zM978.12 265.6h1V278.8h-1zM984.41 263.8h1V275.0h-1zM990.70 261.9h1V268.4h-1zM996.99 263.8h1V268.4h-1zM1003.28 252.5h1V275.4h-1zM1012.71 245.0h1V259.6h-1zM1015.85 254.4h1V262.8h-1zM1019.00 257.2h1V261.9h-1zM1022.14 259.1h1V271.3h-1zM1025.28 265.6h1V272.8h-1zM1031.57 259.1h1V272.2h-1zM1034.72 266.6h1V289.6h-1zM1037.86 286.3h1V293.8h-1zM1044.15 283.4h1V290.0h-1zM1047.29 286.3h1V294.7h-1zM1056.72 227.2h1V259.6h-1zM1066.16 228.1h1V245.9h-1zM1072.44 226.6h1V246.5h-1zM1075.59 240.3h1V255.3h-1zM1078.73 239.0h1V256.3h-1zM1081.88 246.9h1V275.0h-1zM1085.02 262.8h1V270.9h-1zM1091.31 251.6h1V264.7h-1zM1094.45 257.2h1V265.3h-1zM1100.74 253.4h1V262.8h-1zM1103.88 258.1h1V284.4h-1zM1107.03 276.9h1V281.6h-1zM1113.32 274.6h1V279.7h-1zM1116.46 275.0h1V284.4h-1zM1119.60 279.7h1V290.9h-1zM1122.75 288.1h1V317.8h-1zM1125.89 312.5h1V326.6h-1zM1141.61 227.2h1V249.7h-1zM1151.04 184.4h1V202.8h-1zM1157.33 169.4h1V193.4h-1zM1163.62 163.4h1V202.8h-1zM1169.91 171.3h1V196.6h-1zM1179.34 178.8h1V205.0h-1zM1188.77 159.1h1V184.4h-1zM1195.06 165.3h1V173.1h-1zM1198.20 170.3h1V178.8h-1zM1201.35 170.3h1V192.8h-1zM1207.64 166.0h1V183.4h-1zM1210.78 175.4h1V184.0h-1zM1213.92 177.8h1V182.9h-1zM1217.07 176.5h1V182.1h-1zM1229.64 136.6h1V149.7h-1zM1239.08 133.8h1V140.9h-1zM1245.36 138.4h1V157.8h-1zM1251.65 137.1h1V169.4h-1zM1254.80 160.0h1V179.7h-1zM1257.94 173.1h1V194.7h-1zM1264.23 181.6h1V189.1h-1zM1267.37 179.7h1V197.5h-1zM1279.95 151.6h1V163.8h-1zM1283.09 153.4h1V160.9h-1zM1286.24 145.9h1V160.0h-1zM1289.38 157.2h1V184.8h-1zM1298.81 160.0h1V167.1h-1zM1305.10 146.9h1V172.2h-1zM1308.24 159.1h1V173.1h-1zM1311.39 167.9h1V191.5h-1zM1314.53 178.8h1V190.0h-1zM1317.68 174.1h1V199.4h-1zM1320.82 185.3h1V201.6h-1zM1323.96 195.6h1V217.8h-1zM1327.11 196.6h1V202.2h-1zM1336.54 192.8h1V198.4h-1zM1342.83 189.1h1V207.8h-1zM1352.26 191.9h1V203.1h-1zM1361.69 192.3h1V212.5h-1zM1377.41 170.9h1V185.9h-1zM1380.56 178.8h1V187.2h-1zM1383.70 182.5h1V199.4h-1zM1386.84 190.9h1V201.6h-1zM1393.13 191.9h1V197.1h-1zM1399.42 194.7h1V224.7h-1zM1405.71 190.9h1V211.0h-1zM1412.00 201.3h1V208.4h-1zM1415.14 205.4h1V224.7h-1zM1421.43 212.5h1V220.9h-1zM1427.72 212.5h1V235.0h-1zM1440.29 203.1h1V209.7h-1zM1452.87 135.6h1V152.5h-1z" fill="#ef5350" fill-opacity="0.85"/>
<path d="M169.52 126.9h2.2V143.4h-2.2zM178.95 158.4h2.2V163.5h-2.2zM182.09 143.4h2.2V158.4h-2.2zM185.24 120.9h2.2V143.4h-2.2zM191.52 137.8h2.2V147.8h-2.2zM197.81 139.7h2.2V167.8h-2.2zM204.10 154.7h2.2V159.8h-2.2zM207.24 139.7h2.2V155.6h-2.2zM213.53 150.9h2.2V160.9h-2.2zM226.11 162.2h2.2V170.3h-2.2zM229.25 154.7h2.2V162.8h-2.2zM232.40 114.4h2.2V154.7h-2.2zM235.54 113.4h2.2V115.3h-2.2zM241.83 136.9h2.2V148.5h-2.2zM248.12 147.2h2.2V150.9h-2.2zM251.26 145.9h2.2V147.8h-2.2zM254.40 120.9h2.2V146.3h-2.2zM282.70 274.1h2.2V282.5h-2.2zM288.99 311.6h2.2V313.4h-2.2zM295.28 309.7h2.2V337.8h-2.2zM301.56 306.9h2.2V309.7h-2.2zM307.85 300.3h2.2V320.9h-2.2zM311.00 298.4h2.2V300.3h-2.2zM314.14 293.8h2.2V298.4h-2.2zM339.29 332.2h2.2V333.5h-2.2zM342.44 315.3h2.2V332.2h-2.2zM348.72 309.7h2.2V316.6h-2.2zM351.87 291.5h2.2V309.7h-2.2zM358.16 290.9h2.2V292.3h-2.2zM370.73 315.3h2.2V332.2h-2.2zM373.88 309.7h2.2V315.3h-2.2zM377.02 305.0h2.2V309.7h-2.2zM380.16 299.4h2.2V305.0h-2.2zM386.45 276.9h2.2V305.9h-2.2zM389.60 260.3h2.2V276.8h-2.2zM405.32 274.4h2.2V277.2h-2.2zM414.75 267.8h2.2V298.4h-2.2zM417.89 252.8h2.2V267.8h-2.2zM443.04 261.3h2.2V273.4h-2.2zM449.33 264.1h2.2V268.8h-2.2zM452.48 253.2h2.2V264.1h-2.2zM458.76 250.9h2.2V265.0h-2.2zM465.05 242.5h2.2V250.9h-2.2zM468.20 241.6h2.2V242.6h-2.2zM490.20 299.4h2.2V305.4h-2.2zM493.35 293.8h2.2V299.4h-2.2zM499.64 293.4h2.2V295.6h-2.2zM505.92 292.3h2.2V295.6h-2.2zM518.50 314.8h2.2V327.5h-2.2zM524.79 318.5h2.2V323.4h-2.2zM527.93 317.8h2.2V318.8h-2.2zM537.36 319.6h2.2V321.5h-2.2zM546.80 331.3h2.2V341.0h-2.2zM549.94 330.3h2.2V331.3h-2.2zM553.08 294.7h2.2V331.3h-2.2zM556.23 290.3h2.2V294.8h-2.2zM559.37 287.3h2.2V290.3h-2.2zM562.52 277.5h2.2V287.3h-2.2zM568.80 315.9h2.2V316.9h-2.2zM575.09 322.5h2.2V324.4h-2.2zM578.24 317.8h2.2V322.5h-2.2zM584.52 326.3h2.2V330.0h-2.2zM593.96 330.4h2.2V346.9h-2.2zM606.53 333.8h2.2V340.9h-2.2zM612.82 330.0h2.2V335.6h-2.2zM615.96 325.9h2.2V330.0h-2.2zM628.54 325.3h2.2V336.6h-2.2zM631.68 313.5h2.2V325.3h-2.2zM647.40 329.1h2.2V330.1h-2.2zM656.84 334.7h2.2V336.0h-2.2zM659.98 331.5h2.2V334.7h-2.2zM669.41 332.8h2.2V335.6h-2.2zM672.56 327.2h2.2V332.8h-2.2zM685.13 334.1h2.2V336.0h-2.2zM688.28 333.4h2.2V334.4h-2.2zM691.42 327.2h2.2V333.4h-2.2zM697.71 318.8h2.2V330.9h-2.2zM700.85 306.0h2.2V318.8h-2.2zM707.14 308.4h2.2V314.1h-2.2zM710.28 304.7h2.2V308.4h-2.2zM726.00 315.9h2.2V316.9h-2.2zM729.15 299.6h2.2V315.9h-2.2zM732.29 296.3h2.2V299.6h-2.2zM748.01 361.9h2.2V391.9h-2.2zM760.59 379.1h2.2V384.8h-2.2zM763.73 374.1h2.2V379.1h-2.2zM770.02 377.8h2.2V379.1h-2.2zM773.16 377.3h2.2V378.3h-2.2zM776.31 376.9h2.2V377.9h-2.2zM785.74 386.6h2.2V393.8h-2.2zM788.88 379.1h2.2V386.6h-2.2zM792.03 378.4h2.2V379.4h-2.2zM807.75 382.5h2.2V385.9h-2.2zM810.89 368.4h2.2V382.5h-2.2zM817.18 370.9h2.2V372.2h-2.2zM823.47 370.3h2.2V373.1h-2.2zM829.76 370.9h2.2V372.8h-2.2zM836.04 368.4h2.2V375.0h-2.2zM848.62 369.0h2.2V370.3h-2.2zM851.76 358.1h2.2V369.0h-2.2zM854.91 357.2h2.2V358.2h-2.2zM864.34 375.9h2.2V378.8h-2.2zM873.77 374.1h2.2V382.5h-2.2zM886.35 375.0h2.2V376.0h-2.2zM889.49 375.0h2.2V376.0h-2.2zM892.64 373.1h2.2V375.0h-2.2zM902.07 378.8h2.2V379.8h-2.2zM911.50 378.8h2.2V380.3h-2.2zM914.64 377.3h2.2V378.8h-2.2zM917.79 376.9h2.2V377.9h-2.2zM920.93 374.1h2.2V376.9h-2.2zM927.22 372.8h2.2V374.6h-2.2zM933.51 369.8h2.2V373.1h-2.2zM936.65 368.4h2.2V369.8h-2.2zM939.80 364.7h2.2V368.4h-2.2zM942.94 355.3h2.2V364.7h-2.2zM946.08 339.3h2.2V355.3h-2.2zM949.23 320.6h2.2V339.3h-2.2zM952.37 302.8h2.2V320.6h-2.2zM958.66 300.3h2.2V304.6h-2.2zM968.09 301.3h2.2V307.8h-2.2zM971.24 272.2h2.2V301.3h-2.2zM974.38 270.9h2.2V272.2h-2.2zM980.67 268.4h2.2V272.2h-2.2zM986.96 266.0h2.2V273.1h-2.2zM993.24 266.0h2.2V267.5h-2.2zM999.53 253.8h2.2V266.6h-2.2zM1005.82 264.7h2.2V270.3h-2.2zM1008.96 254.0h2.2V264.7h-2.2zM1027.83 263.4h2.2V270.9h-2.2zM1040.40 287.2h2.2V291.5h-2.2zM1049.84 280.6h2.2V289.1h-2.2zM1052.98 243.5h2.2V280.6h-2.2zM1059.27 239.4h2.2V258.5h-2.2zM1062.41 238.4h2.2V239.4h-2.2zM1068.70 234.7h2.2V244.6h-2.2zM1087.56 257.8h2.2V264.7h-2.2zM1097.00 255.9h2.2V264.7h-2.2zM1109.57 277.3h2.2V278.8h-2.2zM1128.44 308.8h2.2V315.9h-2.2zM1131.58 280.3h2.2V308.8h-2.2zM1134.72 245.9h2.2V280.3h-2.2zM1137.87 236.6h2.2V245.9h-2.2zM1144.16 231.5h2.2V243.5h-2.2zM1147.30 190.0h2.2V231.3h-2.2zM1153.59 179.1h2.2V197.9h-2.2zM1159.88 177.3h2.2V182.9h-2.2zM1166.16 174.1h2.2V191.9h-2.2zM1172.45 188.5h2.2V189.5h-2.2zM1175.60 179.7h2.2V188.5h-2.2zM1181.88 192.8h2.2V195.3h-2.2zM1185.03 174.1h2.2V192.8h-2.2zM1191.32 170.9h2.2V180.3h-2.2zM1203.89 175.9h2.2V182.5h-2.2zM1219.61 174.6h2.2V181.0h-2.2zM1222.76 151.0h2.2V174.6h-2.2zM1225.90 141.3h2.2V151.0h-2.2zM1232.19 137.1h2.2V146.9h-2.2zM1235.33 136.0h2.2V137.9h-2.2zM1241.62 139.0h2.2V140.0h-2.2zM1247.91 137.1h2.2V154.8h-2.2zM1260.48 182.5h2.2V192.8h-2.2zM1269.92 174.1h2.2V187.8h-2.2zM1273.06 172.2h2.2V174.6h-2.2zM1276.20 153.4h2.2V172.2h-2.2zM1291.92 167.9h2.2V178.8h-2.2zM1295.07 161.5h2.2V167.9h-2.2zM1301.36 152.5h2.2V165.6h-2.2zM1329.65 198.4h2.2V201.3h-2.2zM1332.80 193.8h2.2V198.4h-2.2zM1339.08 189.6h2.2V197.5h-2.2zM1345.37 199.4h2.2V200.4h-2.2zM1348.52 194.7h2.2V199.4h-2.2zM1354.80 199.4h2.2V201.6h-2.2zM1357.95 192.8h2.2V199.4h-2.2zM1364.24 205.9h2.2V208.8h-2.2zM1367.38 201.6h2.2V205.9h-2.2zM1370.52 199.8h2.2V201.6h-2.2zM1373.67 177.8h2.2V199.8h-2.2zM1389.39 192.8h2.2V200.9h-2.2zM1395.68 195.3h2.2V196.3h-2.2zM1401.96 192.8h2.2V219.1h-2.2zM1408.25 205.9h2.2V208.4h-2.2zM1417.68 216.3h2.2V217.8h-2.2zM1423.97 216.3h2.2V217.3h-2.2zM1430.26 222.8h2.2V231.3h-2.2zM1433.40 207.8h2.2V222.8h-2.2zM1436.55 205.0h2.2V207.8h-2.2zM1442.84 200.3h2.2V208.8h-2.2zM1445.98 174.1h2.2V200.3h-2.2zM1449.12 144.1h2.2V174.1h-2.2zM1455.41 143.5h2.2V146.5h-2.2z" fill="#1a9f92"/>
<path d="M153.80 -7.5h2.2V30.9h-2.2zM156.94 30.9h2.2V39.4h-2.2zM160.08 37.5h2.2V48.8h-2.2zM163.23 48.8h2.2V75.0h-2.2zM166.37 74.1h2.2V143.4h-2.2zM172.66 126.9h2.2V163.1h-2.2zM175.80 162.0h2.2V163.3h-2.2zM188.38 121.9h2.2V147.8h-2.2zM194.67 137.8h2.2V167.8h-2.2zM200.96 139.7h2.2V159.8h-2.2zM210.39 139.7h2.2V160.9h-2.2zM216.68 150.9h2.2V154.7h-2.2zM219.82 153.8h2.2V159.8h-2.2zM222.96 159.4h2.2V169.7h-2.2zM238.68 113.4h2.2V148.5h-2.2zM244.97 137.8h2.2V150.9h-2.2zM257.55 120.9h2.2V125.6h-2.2zM260.69 124.7h2.2V141.6h-2.2zM263.84 141.0h2.2V143.4h-2.2zM266.98 143.4h2.2V161.6h-2.2zM270.12 161.3h2.2V172.9h-2.2zM273.27 172.5h2.2V204.4h-2.2zM276.41 199.4h2.2V276.3h-2.2zM279.56 275.9h2.2V282.5h-2.2zM285.84 274.1h2.2V313.4h-2.2zM292.13 311.6h2.2V337.8h-2.2zM298.42 309.1h2.2V310.3h-2.2zM304.71 306.9h2.2V320.9h-2.2zM317.28 293.8h2.2V301.6h-2.2zM320.43 301.6h2.2V306.9h-2.2zM323.57 306.9h2.2V315.3h-2.2zM326.72 315.3h2.2V317.8h-2.2zM329.86 317.8h2.2V320.4h-2.2zM333.00 320.4h2.2V333.1h-2.2zM336.15 332.8h2.2V333.8h-2.2zM345.58 315.3h2.2V316.6h-2.2zM355.01 291.5h2.2V292.5h-2.2zM361.30 292.3h2.2V305.0h-2.2zM364.44 304.6h2.2V320.9h-2.2zM367.59 320.4h2.2V332.2h-2.2zM383.31 299.4h2.2V305.9h-2.2zM392.74 260.3h2.2V263.5h-2.2zM395.88 263.1h2.2V264.6h-2.2zM399.03 264.6h2.2V272.5h-2.2zM402.17 272.5h2.2V277.2h-2.2zM408.46 274.4h2.2V296.9h-2.2zM411.60 296.9h2.2V298.4h-2.2zM421.04 252.8h2.2V254.7h-2.2zM424.18 253.8h2.2V257.5h-2.2zM427.32 256.6h2.2V262.2h-2.2zM430.47 262.2h2.2V263.5h-2.2zM433.61 262.2h2.2V267.8h-2.2zM436.76 266.9h2.2V270.6h-2.2zM439.90 270.3h2.2V274.0h-2.2zM446.19 261.3h2.2V268.8h-2.2zM455.62 253.2h2.2V265.0h-2.2zM461.91 250.4h2.2V251.5h-2.2zM471.34 241.6h2.2V244.8h-2.2zM474.48 244.4h2.2V248.1h-2.2zM477.63 248.1h2.2V252.8h-2.2zM480.77 252.8h2.2V262.2h-2.2zM483.92 261.3h2.2V264.1h-2.2zM487.06 264.1h2.2V305.3h-2.2zM496.49 293.8h2.2V296.0h-2.2zM502.78 293.4h2.2V295.6h-2.2zM509.07 292.3h2.2V315.3h-2.2zM512.21 314.8h2.2V318.1h-2.2zM515.36 317.8h2.2V327.5h-2.2zM521.64 314.8h2.2V323.8h-2.2zM531.08 317.8h2.2V320.4h-2.2zM534.22 320.0h2.2V321.5h-2.2zM540.51 319.6h2.2V322.8h-2.2zM543.65 322.8h2.2V341.0h-2.2zM565.66 277.5h2.2V316.9h-2.2zM571.95 315.9h2.2V324.4h-2.2zM581.38 317.8h2.2V330.0h-2.2zM587.67 326.3h2.2V339.4h-2.2zM590.81 339.0h2.2V346.9h-2.2zM597.10 330.4h2.2V331.9h-2.2zM600.24 331.9h2.2V339.0h-2.2zM603.39 338.4h2.2V340.9h-2.2zM609.68 333.8h2.2V335.6h-2.2zM619.11 325.9h2.2V330.0h-2.2zM622.25 330.0h2.2V332.3h-2.2zM625.40 331.9h2.2V336.6h-2.2zM634.83 313.5h2.2V316.9h-2.2zM637.97 316.5h2.2V320.3h-2.2zM641.12 319.7h2.2V328.5h-2.2zM644.26 328.5h2.2V330.0h-2.2zM650.55 329.1h2.2V334.7h-2.2zM653.69 334.7h2.2V336.0h-2.2zM663.12 331.5h2.2V334.7h-2.2zM666.27 334.3h2.2V335.6h-2.2zM675.70 327.2h2.2V331.9h-2.2zM678.84 331.9h2.2V334.7h-2.2zM681.99 334.7h2.2V336.0h-2.2zM694.56 327.2h2.2V330.9h-2.2zM704.00 306.0h2.2V314.1h-2.2zM713.43 304.7h2.2V308.4h-2.2zM716.57 308.4h2.2V312.2h-2.2zM719.72 311.6h2.2V312.8h-2.2zM722.86 312.2h2.2V316.9h-2.2zM735.44 296.3h2.2V303.8h-2.2zM738.58 303.8h2.2V309.4h-2.2zM741.72 308.4h2.2V345.0h-2.2zM744.87 345.0h2.2V391.9h-2.2zM751.16 361.9h2.2V371.3h-2.2zM754.30 371.3h2.2V375.9h-2.2zM757.44 375.9h2.2V384.8h-2.2zM766.88 374.1h2.2V379.1h-2.2zM779.45 376.9h2.2V384.8h-2.2zM782.60 384.8h2.2V393.8h-2.2zM795.17 378.4h2.2V380.6h-2.2zM798.32 380.3h2.2V381.6h-2.2zM801.46 381.6h2.2V382.6h-2.2zM804.60 382.1h2.2V385.9h-2.2zM814.04 368.4h2.2V372.2h-2.2zM820.32 370.9h2.2V373.1h-2.2zM826.61 370.3h2.2V372.8h-2.2zM832.90 370.9h2.2V375.0h-2.2zM839.19 368.4h2.2V369.4h-2.2zM842.33 369.0h2.2V370.0h-2.2zM845.48 369.4h2.2V370.4h-2.2zM858.05 357.2h2.2V365.6h-2.2zM861.20 365.6h2.2V378.8h-2.2zM867.48 375.9h2.2V376.9h-2.2zM870.63 376.5h2.2V382.5h-2.2zM876.92 374.1h2.2V375.4h-2.2zM880.06 375.0h2.2V376.0h-2.2zM883.20 375.4h2.2V376.4h-2.2zM895.78 373.1h2.2V376.9h-2.2zM898.92 376.9h2.2V379.7h-2.2zM905.21 378.8h2.2V379.8h-2.2zM908.36 379.3h2.2V380.3h-2.2zM924.08 374.1h2.2V375.1h-2.2zM930.36 372.8h2.2V373.8h-2.2zM955.52 302.8h2.2V304.6h-2.2zM961.80 300.3h2.2V301.3h-2.2zM964.95 300.3h2.2V307.8h-2.2zM977.52 270.9h2.2V272.2h-2.2zM983.81 268.4h2.2V273.1h-2.2zM990.10 266.6h2.2V267.6h-2.2zM996.39 265.6h2.2V266.6h-2.2zM1002.68 253.8h2.2V270.3h-2.2zM1012.11 254.0h2.2V258.5h-2.2zM1015.25 258.5h2.2V259.6h-2.2zM1018.40 259.6h2.2V260.9h-2.2zM1021.54 260.9h2.2V269.4h-2.2zM1024.68 268.4h2.2V270.9h-2.2zM1030.97 263.4h2.2V267.5h-2.2zM1034.12 267.5h2.2V288.5h-2.2zM1037.26 288.5h2.2V291.5h-2.2zM1043.55 287.2h2.2V288.5h-2.2zM1046.69 288.1h2.2V289.1h-2.2zM1056.12 243.5h2.2V258.5h-2.2zM1065.56 238.4h2.2V244.6h-2.2zM1071.84 234.7h2.2V241.6h-2.2zM1074.99 241.6h2.2V246.5h-2.2zM1078.13 245.9h2.2V250.6h-2.2zM1081.28 250.6h2.2V264.1h-2.2zM1084.42 263.4h2.2V264.7h-2.2zM1090.71 257.8h2.2V259.1h-2.2zM1093.85 258.5h2.2V264.7h-2.2zM1100.14 255.9h2.2V259.1h-2.2zM1103.28 258.5h2.2V277.8h-2.2zM1106.43 277.8h2.2V278.8h-2.2zM1112.72 277.3h2.2V278.3h-2.2zM1115.86 277.8h2.2V281.0h-2.2zM1119.00 280.6h2.2V290.0h-2.2zM1122.15 290.0h2.2V313.4h-2.2zM1125.29 313.4h2.2V315.9h-2.2zM1141.01 236.6h2.2V243.5h-2.2zM1150.44 190.0h2.2V197.9h-2.2zM1156.73 179.1h2.2V182.9h-2.2zM1163.02 177.3h2.2V191.9h-2.2zM1169.31 174.1h2.2V189.1h-2.2zM1178.74 179.7h2.2V195.3h-2.2zM1188.17 174.1h2.2V180.3h-2.2zM1194.46 170.9h2.2V171.9h-2.2zM1197.60 171.3h2.2V176.9h-2.2zM1200.75 176.5h2.2V182.5h-2.2zM1207.04 175.9h2.2V176.9h-2.2zM1210.18 176.5h2.2V179.7h-2.2zM1213.32 179.3h2.2V181.0h-2.2zM1216.47 180.3h2.2V181.3h-2.2zM1229.04 141.3h2.2V146.9h-2.2zM1238.48 136.0h2.2V139.4h-2.2zM1244.76 139.0h2.2V154.8h-2.2zM1251.05 137.5h2.2V166.0h-2.2zM1254.20 165.6h2.2V175.0h-2.2zM1257.34 175.0h2.2V192.8h-2.2zM1263.63 182.5h2.2V187.2h-2.2zM1266.77 186.6h2.2V187.8h-2.2zM1279.35 153.4h2.2V156.3h-2.2zM1282.49 155.9h2.2V157.2h-2.2zM1285.64 157.2h2.2V159.1h-2.2zM1288.78 158.5h2.2V178.8h-2.2zM1298.21 161.5h2.2V165.6h-2.2zM1304.50 152.5h2.2V164.1h-2.2zM1307.64 164.1h2.2V170.9h-2.2zM1310.79 170.9h2.2V185.3h-2.2zM1313.93 185.3h2.2V186.6h-2.2zM1317.08 186.3h2.2V187.3h-2.2zM1320.22 186.3h2.2V197.5h-2.2zM1323.36 197.1h2.2V200.9h-2.2zM1326.51 200.3h2.2V201.3h-2.2zM1335.94 194.1h2.2V197.5h-2.2zM1342.23 189.6h2.2V200.3h-2.2zM1351.66 194.7h2.2V201.6h-2.2zM1361.09 192.8h2.2V208.8h-2.2zM1376.81 177.8h2.2V184.8h-2.2zM1379.96 184.4h2.2V185.9h-2.2zM1383.10 185.3h2.2V193.8h-2.2zM1386.24 193.4h2.2V200.9h-2.2zM1392.53 192.8h2.2V195.6h-2.2zM1398.82 195.3h2.2V219.1h-2.2zM1405.11 192.8h2.2V208.4h-2.2zM1411.40 205.9h2.2V206.9h-2.2zM1414.54 206.5h2.2V217.8h-2.2zM1420.83 216.3h2.2V217.3h-2.2zM1427.12 216.3h2.2V231.3h-2.2zM1439.69 205.9h2.2V208.4h-2.2zM1452.27 144.6h2.2V146.5h-2.2z" fill="#f03a3c"/>
</g>
<path d="M12 143.4H1516.5" stroke="#26a69a" stroke-width="1" stroke-dasharray="1.15 1.5" stroke-opacity="0.75" fill="none"/>
<g clip-path="url(#cr)">
<rect x="12" y="520.5" width="1504.5" height="77" fill="#7e57c2" fill-opacity="0.1"/>
<polygon points="36.2,520.5 37.5,520.0 37.9,520.5" fill="url(#gob)"/>
<polygon points="942.6,520.5 943.0,518.8 946.2,497.5 949.5,488.8 952.5,483.0 955.0,485.0 958.0,484.2 961.2,485.5 963.0,487.5 965.8,504.5 968.8,497.5 972.0,490.0 975.0,489.5 977.5,491.2 981.2,490.8 984.5,500.0 987.5,497.5 990.8,498.8 993.8,498.2 997.0,500.0 1000.0,495.0 1003.5,520.5" fill="url(#gob)"/>
<polygon points="1005.2,520.5 1007.0,518.0 1010.0,513.0 1013.0,520.0 1013.8,520.5" fill="url(#gob)"/>
<polygon points="1146.7,520.5 1147.5,516.2 1150.3,520.5" fill="url(#gob)"/>
<polygon points="1151.3,520.5 1154.2,516.2 1157.0,518.8 1160.0,517.5 1160.8,520.5" fill="url(#gob)"/>
<polygon points="1225.0,520.5 1226.2,517.5 1227.7,520.5" fill="url(#gob)"/>
<polygon points="1232.1,520.5 1232.5,520.0 1235.5,518.2 1237.2,520.5" fill="url(#gob)"/>
<polygon points="1449.1,520.5 1449.5,518.8 1451.6,520.5" fill="url(#gob)"/>
<polygon points="1453.9,520.5 1456.2,519.2" fill="url(#gob)"/>
<polygon points="164.1,597.5 167.0,607.0 170.0,600.0 173.2,605.0 176.8,605.5 180.0,601.2 181.2,597.5" fill="url(#gos)"/>
<polygon points="275.2,597.5 277.0,607.5 280.0,608.8 283.2,604.5 286.2,612.0 289.5,611.2 292.5,615.0 295.8,600.0 298.8,599.5 302.0,597.5" fill="url(#gos)"/>
<polygon points="302.0,597.5 304.5,600.5 305.3,597.5" fill="url(#gos)"/>
<polygon points="332.3,597.5 333.2,598.8 336.2,599.5 339.5,598.0 339.6,597.5" fill="url(#gos)"/>
<polygon points="744.2,597.5 745.5,607.0 746.7,597.5" fill="url(#gos)"/>
<polygon points="1122.9,597.5 1123.0,598.0 1125.8,599.2 1126.3,597.5" fill="url(#gos)"/>
<path d="M12 520.5H1516.5M12 597.5H1516.5" stroke="#787b86" stroke-width="1" stroke-dasharray="4 4" fill="none"/>
<path d="M12 559.5H1516.5" stroke="#787b86" stroke-opacity="0.5" stroke-width="1" stroke-dasharray="4 4" fill="none"/>
<polyline points="12.0,558.8 20.0,555.5 27.5,550.0 35.0,542.5 42.5,537.5 51.2,535.0 58.8,533.0 65.0,536.2 72.5,543.8 80.0,553.8 87.5,562.5 95.0,568.8 102.5,572.5 112.5,573.8 125.0,573.8 137.5,573.2 150.0,575.0 162.5,578.8 170.0,583.8 177.5,588.8 186.2,591.2 195.0,593.8 202.5,594.2 210.0,591.2 220.0,585.5 230.0,580.5 240.0,575.5 250.0,573.0 257.5,569.5 265.0,566.2 270.0,566.2 275.0,570.0 282.5,577.0 292.5,587.5 300.0,594.5 307.5,599.2 315.0,600.5 322.5,598.8 332.5,595.0 342.5,592.5 350.0,588.8 360.0,584.5 370.0,581.2 380.0,573.8 390.0,565.0 396.2,561.2 402.5,559.5 410.0,556.2 417.5,551.2 425.0,547.0 431.2,546.2 440.0,549.5 450.0,548.8 457.5,546.2 467.5,546.2 476.2,545.0 483.8,545.8 490.0,551.2 500.0,558.8 508.8,566.2 515.0,575.0 521.2,581.2 527.5,583.8 535.0,584.5 542.5,585.0 550.0,587.5 556.2,581.2 562.5,573.8 570.0,570.5 580.0,567.5 588.8,565.5 595.0,565.0 601.2,568.8 607.5,573.0 615.0,572.5 626.2,571.2 636.2,565.0 647.5,562.5 657.5,563.0 672.5,563.2 682.5,566.8 693.8,565.0 702.5,559.5 712.5,552.0 725.0,546.2 733.8,541.2 739.2,540.0 745.0,547.5 752.5,555.0 761.2,565.0 771.2,573.8 778.8,582.5 785.0,587.5 785.0,587.0 795.0,584.5 805.0,582.5 817.5,577.5 830.0,570.5 842.5,565.0 852.5,559.5 858.8,558.0 867.5,559.2 880.0,561.2 892.5,562.0 902.5,567.0 912.5,567.5 922.5,566.2 932.5,562.5 940.0,558.8 946.2,548.8 955.0,531.2 963.8,517.5 972.5,505.0 980.0,497.0 987.5,492.5 993.8,493.0 1000.0,495.0 1007.5,499.5 1015.0,503.8 1023.8,511.2 1032.5,520.0 1040.0,531.2 1047.5,539.5 1055.0,544.5 1062.5,545.5 1072.5,545.0 1082.5,543.2 1092.5,541.2 1101.2,545.0 1110.0,553.8 1118.8,562.5 1126.2,569.5 1131.2,572.0 1137.5,570.0 1145.0,566.2 1152.5,558.8 1160.0,548.8 1168.8,535.0 1176.2,527.5 1180.0,527.5 1185.0,527.5 1195.0,530.0 1205.0,534.5 1213.8,537.0 1220.0,537.5 1227.5,534.5 1237.5,531.2 1247.5,530.5 1256.2,533.8 1263.8,538.8 1270.0,545.0 1277.5,550.0 1285.0,555.0 1292.5,558.8 1300.0,557.5 1307.5,554.2 1315.0,556.2 1322.5,561.2 1330.0,566.2 1337.5,569.5 1345.0,572.5 1353.8,575.5 1362.5,576.2 1370.0,574.5 1376.2,570.0 1382.5,567.0 1390.0,565.8 1397.5,565.0 1405.0,563.8 1412.5,563.2 1420.0,566.2 1427.5,570.0 1433.8,571.2 1440.0,570.5 1446.2,566.2 1452.5,560.0 1456.2,556.8" fill="none" stroke="#fdd835" stroke-width="1.05" stroke-linejoin="round"/>
<polyline points="12.0,554.5 15.0,546.2 18.8,542.0 22.5,537.0 27.5,533.8 31.2,522.5 37.5,520.0 41.2,525.0 45.0,539.5 47.5,535.5 50.0,538.8 56.2,534.5 60.0,546.2 63.0,563.8 66.2,561.2 69.5,568.8 72.5,566.2 75.5,572.5 78.8,586.2 82.0,580.0 85.0,573.0 88.0,578.8 91.2,573.8 94.5,575.0 98.0,579.5 101.2,570.0 104.5,563.8 107.5,565.0 111.2,573.8 114.5,578.0 118.8,578.0 122.5,568.0 125.8,583.8 128.8,575.0 132.5,568.8 136.2,578.8 138.8,582.0 142.0,575.0 145.0,574.5 148.2,579.5 151.2,562.0 154.5,580.5 157.5,583.8 161.2,588.8 163.8,596.2 167.0,607.0 170.0,600.0 173.2,605.0 176.8,605.5 180.0,601.2 182.5,593.8 185.5,585.5 188.8,590.0 192.0,587.0 195.0,593.8 198.0,582.0 201.2,584.5 204.2,582.5 207.5,577.5 210.5,583.0 213.8,579.5 217.0,579.5 220.0,582.0 223.2,583.8 226.2,581.2 229.5,575.0 232.5,557.0 235.5,556.2 239.5,570.5 242.0,566.2 245.0,570.5 248.2,568.8 251.2,568.8 255.0,556.2 258.0,558.0 261.2,563.8 264.5,567.0 267.5,573.8 271.2,580.5 274.2,592.5 277.0,607.5 280.0,608.8 283.2,604.5 286.2,612.0 289.5,611.2 292.5,615.0 295.8,600.0 298.8,599.5 302.0,597.5 304.5,600.5 307.5,588.8 311.2,587.0 314.5,585.0 317.5,587.5 320.8,590.0 323.8,592.5 327.0,593.8 330.0,594.5 333.2,598.8 336.2,599.5 339.5,598.0 342.5,584.5 345.8,583.0 348.8,575.0 352.0,563.8 355.0,563.2 358.8,563.8 361.8,571.2 365.0,582.5 368.0,587.5 371.2,573.8 374.5,568.8 377.5,565.0 380.8,560.5 383.8,565.0 387.0,544.5 390.0,537.0 393.0,538.8 396.2,540.0 400.0,546.2 403.8,550.0 406.2,548.8 408.8,565.0 411.8,566.2 415.0,545.0 418.0,537.5 421.2,538.0 425.0,540.0 428.8,545.0 432.5,550.0 436.2,553.0 440.0,556.2 443.2,546.2 446.2,552.5 450.0,548.8 453.0,541.2 455.8,551.2 458.8,542.0 462.0,541.2 465.0,536.2 468.2,535.5 472.0,538.8 475.0,542.5 478.0,550.0 481.2,558.8 483.8,560.0 487.5,590.5 490.8,585.0 493.8,579.5 497.0,580.0 500.0,577.5 503.0,579.5 506.2,576.2 509.5,591.2 512.5,593.0 516.2,597.5 518.8,583.8 522.0,587.5 525.0,583.0 528.2,582.0 531.2,583.8 535.0,585.0 538.2,581.2 541.2,587.5 544.2,596.2 547.5,585.0 550.5,584.5 553.8,550.0 557.0,546.2 560.0,543.8 562.5,537.0 565.8,567.0 569.2,567.5 572.5,572.5 575.8,571.2 579.2,567.0 582.0,573.8 585.0,573.0 588.2,581.2 591.2,585.0 594.5,570.0 597.5,571.2 601.2,575.5 604.2,576.8 607.0,568.8 610.0,570.0 613.2,565.0 616.2,562.5 620.0,565.0 623.0,566.2 625.5,570.0 628.8,557.5 632.0,547.5 635.0,550.5 638.2,554.5 641.2,561.2 644.5,565.0 647.5,563.8 650.8,570.0 653.8,571.2 657.0,569.5 660.5,564.5 663.8,568.8 667.0,570.0 670.0,562.5 673.0,557.5 676.2,563.8 679.5,567.5 682.5,569.5 685.8,566.2 688.8,565.0 691.8,553.8 694.5,560.0 698.0,541.2 701.2,529.5 704.5,541.2 708.0,536.2 711.2,533.0 714.2,538.8 717.5,542.5 720.5,543.8 723.8,552.5 726.8,551.2 729.5,532.5 732.5,529.5 735.8,538.8 739.2,550.0 742.5,585.0 745.5,607.0 748.8,582.0 751.8,585.0 755.0,588.0 758.0,591.2 761.2,586.2 764.5,582.0 767.5,584.5 770.8,584.2 776.8,584.2 780.0,589.2 783.0,593.8 786.2,582.5 790.0,576.8 793.8,576.8 797.5,578.0 801.2,579.2 804.2,582.0 807.5,577.0 811.2,560.0 814.5,562.5 817.5,560.8 820.0,565.0 823.8,560.0 827.0,562.5 830.0,560.0 833.2,565.5 836.8,556.2 839.5,558.8 842.5,558.8 846.2,560.0 849.2,555.0 852.5,541.2 855.8,540.8 858.8,552.5 861.2,573.0 865.0,568.0 868.0,568.8 871.2,576.2 874.5,563.0 877.5,564.5 880.8,565.0 883.8,566.2 887.0,564.5 890.0,564.5 893.0,561.2 896.2,567.5 900.0,573.2 903.0,570.0 905.8,570.5 908.8,573.0 912.0,570.0 915.0,567.0 918.2,566.2 922.0,557.5 925.0,558.8 927.5,552.5 930.8,552.5 933.8,544.5 937.0,541.2 940.0,531.2 943.0,518.8 946.2,497.5 949.5,488.8 952.5,483.0 955.0,485.0 958.0,484.2 961.2,485.5 963.0,487.5 965.8,504.5 968.8,497.5 972.0,490.0 975.0,489.5 977.5,491.2 981.2,490.8 984.5,500.0 987.5,497.5 990.8,498.8 993.8,498.2 997.0,500.0 1000.0,495.0 1003.8,522.5 1007.0,518.0 1010.0,513.0 1013.0,520.0 1016.2,522.0 1019.5,525.0 1022.5,533.8 1025.8,538.8 1028.8,532.5 1031.8,538.8 1034.5,563.8 1037.5,566.8 1041.2,562.0 1044.5,563.2 1047.5,563.2 1050.5,553.8 1053.0,523.8 1056.2,538.8 1059.2,528.8 1062.5,528.0 1066.2,533.8 1069.5,528.8 1072.5,535.0 1075.8,541.2 1078.8,546.2 1082.0,558.0 1085.0,557.5 1088.0,552.0 1091.2,552.5 1094.5,557.5 1097.0,551.2 1100.5,553.8 1103.8,572.0 1107.0,572.0 1110.5,570.5 1113.8,571.2 1117.5,575.0 1120.5,586.2 1123.0,598.0 1125.8,599.2 1128.8,590.0 1132.0,562.5 1135.0,538.8 1138.0,533.0 1141.2,537.5 1144.5,531.2 1147.5,516.2 1150.8,521.2 1154.2,516.2 1157.0,518.8 1160.0,517.5 1163.2,529.5 1166.8,523.0 1170.0,533.8 1173.0,533.0 1176.2,530.0 1180.0,541.2 1182.5,540.0 1185.5,531.2 1188.8,535.8 1192.0,532.5 1195.0,532.0 1198.2,535.0 1201.8,542.0 1205.0,538.2 1208.0,538.2 1211.2,540.0 1214.5,542.5 1217.5,542.5 1220.0,538.8 1223.0,525.0 1226.2,517.5 1229.2,523.8 1232.5,520.0 1235.5,518.2 1238.8,522.5 1242.5,523.0 1245.8,541.2 1248.8,531.2 1251.8,555.0 1255.0,565.0 1258.0,573.8 1261.2,566.2 1264.5,568.8 1267.0,570.0 1270.8,558.8 1273.8,557.0 1277.0,544.5 1280.0,545.5 1283.2,547.5 1286.8,548.0 1289.2,564.5 1292.5,556.2 1295.8,552.5 1298.8,553.8 1302.0,546.2 1305.0,555.0 1308.2,561.2 1311.2,571.2 1314.5,572.5 1317.5,572.5 1320.8,580.0 1323.8,582.5 1327.0,582.5 1330.0,580.5 1333.2,575.0 1336.2,576.2 1339.5,568.8 1343.0,577.5 1346.2,576.2 1349.5,571.2 1353.0,577.0 1355.8,573.0 1358.8,566.2 1362.0,581.2 1365.0,577.5 1368.2,571.2 1371.2,568.0 1373.8,546.2 1377.0,551.2 1380.0,552.5 1383.8,562.5 1387.0,568.8 1390.0,560.5 1393.2,563.0 1395.8,563.0 1399.2,584.5 1402.5,558.8 1405.5,569.5 1408.8,567.5 1412.0,568.0 1415.8,575.0 1418.8,573.8 1422.0,574.5 1425.0,574.5 1428.2,585.5 1431.2,576.2 1434.5,562.5 1437.5,559.5 1440.0,562.0 1443.2,552.5 1446.2,533.8 1449.5,518.8 1452.5,521.2 1456.2,519.2" fill="none" stroke="#7e57c2" stroke-width="1" stroke-linejoin="round"/>
</g>
<g>
<circle cx="1456.75" cy="451.5" r="10.8" fill="#fff" stroke="#9c27b0" stroke-width="1.5"/>
<path d="M1457.9 446.6L1452 452.9l3.7-.3-2.9 5 6.4-6.9-3.7.3z" fill="#9c27b0" stroke="#9c27b0" stroke-width="0.7" stroke-linejoin="round"/>
<circle cx="1472.5" cy="452" r="11.5" fill="#fff" stroke="#f23645" stroke-width="1.0"/>
<circle cx="1470.8999999999999" cy="452" r="11.5" fill="#fff" stroke="#f23645" stroke-width="1.0"/>
<circle cx="1469.3" cy="452" r="11.3" fill="#fff" stroke="#f23645" stroke-width="1.4"/>
<clipPath id="fl"><circle cx="1468.9" cy="452.1" r="8.8"/></clipPath>
<g clip-path="url(#fl)"><rect x="1460" y="443" width="18" height="18.5" fill="#fff"/><rect x="1460" y="443.2" width="18" height="3.7" fill="#ef5350"/><rect x="1460" y="450" width="18" height="3.75" fill="#ef5350"/><rect x="1460" y="456.6" width="18" height="4.6" fill="#ef5350"/><rect x="1460" y="443" width="10.75" height="10.75" fill="#1e88e5"/><path d="M1462.2 445.6h8M1462.2 448.4h8M1462.2 451.2h8" stroke="#e3f2fd" stroke-width="1" stroke-dasharray="1.2 1.8"/></g>
</g>
<path d="M1516.5 134H1583a2 2 0 0 1 2 2V166a2 2 0 0 1 -2 2H1516.5z" fill="#26a69a"/>
<g font-family="Liberation Sans, Arial, sans-serif">
<text x="11.6" y="21.5" font-size="14.2" fill="#1e222d" textLength="104.4" lengthAdjust="spacingAndGlyphs" >adamialessandro5</text>
<text x="121.5" y="21.5" font-size="14.2" fill="#1e222d" textLength="55.5" lengthAdjust="spacingAndGlyphs" >published</text>
<text x="181.8" y="21.5" font-size="14.2" fill="#1e222d" textLength="13.4" lengthAdjust="spacingAndGlyphs" >on</text>
<text x="200.4" y="21.5" font-size="14.2" fill="#1e222d" textLength="102.4" lengthAdjust="spacingAndGlyphs" >TradingView.com,</text>
<text x="308.8" y="21.5" font-size="14.2" fill="#1e222d" textLength="20.6" lengthAdjust="spacingAndGlyphs" >Jun</text>
<text x="333.8" y="21.5" font-size="14.2" fill="#1e222d" textLength="17.5" lengthAdjust="spacingAndGlyphs" >23,</text>
<text x="356.2" y="21.5" font-size="14.2" fill="#1e222d" textLength="26.9" lengthAdjust="spacingAndGlyphs" >2023</text>
<text x="389.4" y="21.5" font-size="14.2" fill="#1e222d" textLength="30.0" lengthAdjust="spacingAndGlyphs" >13:33</text>
<text x="425" y="21.5" font-size="14.2" fill="#1e222d" textLength="36.9" lengthAdjust="spacingAndGlyphs" >UTC+2</text>
<text x="20.6" y="51.9" font-size="13.7" fill="#131722" textLength="40.5" lengthAdjust="spacingAndGlyphs" >Bitcoin</text>
<text x="68.1" y="51.9" font-size="13.7" fill="#131722" textLength="4.4" lengthAdjust="spacingAndGlyphs" >/</text>
<text x="76.7" y="51.9" font-size="13.7" fill="#131722" textLength="23.0" lengthAdjust="spacingAndGlyphs" >U.S.</text>
<text x="105.5" y="51.9" font-size="13.7" fill="#131722" textLength="37.1" lengthAdjust="spacingAndGlyphs" >Dollar,</text>
<text x="147.6" y="51.9" font-size="13.7" fill="#131722" textLength="18.6" lengthAdjust="spacingAndGlyphs" >1D,</text>
<text x="171.2" y="51.9" font-size="13.7" fill="#131722" textLength="56.7" lengthAdjust="spacingAndGlyphs" >COINBASE</text>
<text x="236.4" y="51.9" font-size="13.7" fill="#131722" textLength="8.0" lengthAdjust="spacingAndGlyphs" >O</text>
<text x="307.4" y="51.9" font-size="13.7" fill="#131722" textLength="7.7" lengthAdjust="spacingAndGlyphs" >H</text>
<text x="378.2" y="51.9" font-size="13.7" fill="#131722" textLength="5.3" lengthAdjust="spacingAndGlyphs" >L</text>
<text x="445.8" y="51.9" font-size="13.7" fill="#131722" textLength="6.8" lengthAdjust="spacingAndGlyphs" >C</text>
<text x="245.6" y="51.9" font-size="13.7" fill="#26a69a" textLength="52.4" lengthAdjust="spacingAndGlyphs" >29886.25</text>
<text x="315.9" y="51.9" font-size="13.7" fill="#26a69a" textLength="52.7" lengthAdjust="spacingAndGlyphs" >30200.00</text>
<text x="384.1" y="51.9" font-size="13.7" fill="#26a69a" textLength="52.5" lengthAdjust="spacingAndGlyphs" >29802.65</text>
<text x="453.6" y="51.9" font-size="13.7" fill="#26a69a" textLength="52.1" lengthAdjust="spacingAndGlyphs" >30090.43</text>
<text x="515.2" y="51.9" font-size="13.7" fill="#26a69a" textLength="45.1" lengthAdjust="spacingAndGlyphs" >+204.12</text>
<text x="565.8" y="51.9" font-size="13.7" fill="#26a69a" textLength="49.3" lengthAdjust="spacingAndGlyphs" >(+0.68%)</text>
<text x="20.6" y="70.7" font-size="13.7" fill="#131722" textLength="17.4" lengthAdjust="spacingAndGlyphs" >Vol</text>
<text x="51.5" y="70.7" font-size="13.7" fill="#131722" textLength="21.8" lengthAdjust="spacingAndGlyphs" >BTC</text>
<text x="43.2" y="73.4" font-size="20" fill="#131722" textLength="3.2" lengthAdjust="spacingAndGlyphs" >·</text>
<text x="82" y="70.7" font-size="13.7" fill="#26a69a" textLength="40" lengthAdjust="spacingAndGlyphs" >4.609K</text>
<text x="20.6" y="89.1" font-size="13.7" fill="#131722" textLength="17.0" lengthAdjust="spacingAndGlyphs" >MA</text>
<text x="42.5" y="89.1" font-size="13.7" fill="#131722" textLength="21.2" lengthAdjust="spacingAndGlyphs" >(60,</text>
<text x="69" y="89.1" font-size="13.7" fill="#131722" textLength="30.5" lengthAdjust="spacingAndGlyphs" >close,</text>
<text x="108" y="89.1" font-size="13.7" fill="#131722" textLength="10.5" lengthAdjust="spacingAndGlyphs" >0,</text>
<text x="124" y="89.1" font-size="13.7" fill="#131722" textLength="28" lengthAdjust="spacingAndGlyphs" >SMA,</text>
<text x="158" y="89.1" font-size="13.7" fill="#131722" textLength="9" lengthAdjust="spacingAndGlyphs" >5)</text>
<text x="176" y="89.1" font-size="13.7" fill="#f9b52e" textLength="52.6" lengthAdjust="spacingAndGlyphs" >27428.69</text>
<text x="20.6" y="107.5" font-size="13.7" fill="#131722" textLength="64.9" lengthAdjust="spacingAndGlyphs" >Supertrend</text>
<text x="90.5" y="107.5" font-size="13.7" fill="#131722" textLength="21.2" lengthAdjust="spacingAndGlyphs" >(10,</text>
<text x="118" y="107.5" font-size="13.7" fill="#131722" textLength="10" lengthAdjust="spacingAndGlyphs" >3)</text>
<text x="137" y="107.5" font-size="13.7" fill="#4caf50" textLength="52" lengthAdjust="spacingAndGlyphs" >26927.71</text>
<text x="199" y="107.5" font-size="13.7" fill="#5d606b" textLength="6.6" lengthAdjust="spacingAndGlyphs" >ø</text>
<text x="20.5" y="488.8" font-size="13.7" fill="#131722" textLength="17.0" lengthAdjust="spacingAndGlyphs" >RSI</text>
<text x="43" y="488.8" font-size="13.7" fill="#131722" textLength="22.5" lengthAdjust="spacingAndGlyphs" >(14,</text>
<text x="70" y="488.8" font-size="13.7" fill="#131722" textLength="33" lengthAdjust="spacingAndGlyphs" >close,</text>
<text x="108.8" y="488.8" font-size="13.7" fill="#131722" textLength="28.8" lengthAdjust="spacingAndGlyphs" >SMA,</text>
<text x="142" y="488.8" font-size="13.7" fill="#131722" textLength="15.5" lengthAdjust="spacingAndGlyphs" >14,</text>
<text x="163.8" y="488.8" font-size="13.7" fill="#131722" textLength="11.2" lengthAdjust="spacingAndGlyphs" >2)</text>
<text x="184" y="488.8" font-size="13.7" fill="#7e57c2" textLength="30.5" lengthAdjust="spacingAndGlyphs" >70.41</text>
<text x="224" y="488.8" font-size="13.7" fill="#fdd835" textLength="32" lengthAdjust="spacingAndGlyphs" >51.05</text>
<text x="265" y="488.8" font-size="13.7" fill="#5d606b" textLength="6.5" lengthAdjust="spacingAndGlyphs" >ø</text>
<text x="282" y="488.8" font-size="13.7" fill="#5d606b" textLength="6.5" lengthAdjust="spacingAndGlyphs" >ø</text>
<text x="1527" y="49.3" font-size="12.8" fill="#2a2e39" textLength="23" lengthAdjust="spacingAndGlyphs" >USD</text>
<text x="1525.8" y="79.2" font-size="12.9" fill="#2a2e39" textLength="52.5" lengthAdjust="spacingAndGlyphs" >34000.00</text>
<text x="1525.8" y="114.1" font-size="12.9" fill="#2a2e39" textLength="52.5" lengthAdjust="spacingAndGlyphs" >32000.00</text>
<text x="1525.8" y="184.0" font-size="12.9" fill="#2a2e39" textLength="52.5" lengthAdjust="spacingAndGlyphs" >28000.00</text>
<text x="1525.8" y="218.9" font-size="12.9" fill="#2a2e39" textLength="52.5" lengthAdjust="spacingAndGlyphs" >26000.00</text>
<text x="1525.8" y="253.8" font-size="12.9" fill="#2a2e39" textLength="52.5" lengthAdjust="spacingAndGlyphs" >24000.00</text>
<text x="1525.8" y="288.7" font-size="12.9" fill="#2a2e39" textLength="52.5" lengthAdjust="spacingAndGlyphs" >22000.00</text>
<text x="1525.8" y="323.6" font-size="12.9" fill="#2a2e39" textLength="52.5" lengthAdjust="spacingAndGlyphs" >20000.00</text>
<text x="1525.8" y="358.6" font-size="12.9" fill="#2a2e39" textLength="52.5" lengthAdjust="spacingAndGlyphs" >18000.00</text>
<text x="1525.8" y="393.5" font-size="12.9" fill="#2a2e39" textLength="52.5" lengthAdjust="spacingAndGlyphs" >16000.00</text>
<text x="1525.8" y="428.4" font-size="12.9" fill="#2a2e39" textLength="52.5" lengthAdjust="spacingAndGlyphs" >14000.00</text>
<text x="1525.8" y="463.3" font-size="12.9" fill="#2a2e39" textLength="52.5" lengthAdjust="spacingAndGlyphs" >12000.00</text>
<text x="1525.5" y="506" font-size="12.9" fill="#2a2e39" textLength="31.5" lengthAdjust="spacingAndGlyphs" >80.00</text>
<text x="1525.5" y="544" font-size="12.9" fill="#2a2e39" textLength="31.5" lengthAdjust="spacingAndGlyphs" >60.00</text>
<text x="1525.5" y="582" font-size="12.9" fill="#2a2e39" textLength="31.5" lengthAdjust="spacingAndGlyphs" >40.00</text>
<text x="1525.5" y="620" font-size="12.9" fill="#2a2e39" textLength="31.5" lengthAdjust="spacingAndGlyphs" >20.00</text>
<text x="1525.5" y="147.8" font-size="12.8" fill="#fff" font-weight="bold" textLength="53" lengthAdjust="spacingAndGlyphs" >30090.43</text>
<text x="1525.5" y="164" font-size="12.8" fill="#fff" textLength="51.5" lengthAdjust="spacingAndGlyphs" fill-opacity="0.8">12:26:39</text>
<text x="48.0" y="649.8" font-size="12.6" fill="#2a2e39" text-anchor="middle" >Apr</text>
<text x="142.3" y="649.8" font-size="12.6" fill="#2a2e39" text-anchor="middle" >May</text>
<text x="239.8" y="649.8" font-size="12.6" fill="#2a2e39" text-anchor="middle" >Jun</text>
<text x="334.1" y="649.8" font-size="12.6" fill="#2a2e39" text-anchor="middle" >Jul</text>
<text x="431.6" y="649.8" font-size="12.6" fill="#2a2e39" text-anchor="middle" >Aug</text>
<text x="529.0" y="649.8" font-size="12.6" fill="#2a2e39" text-anchor="middle" >Sep</text>
<text x="623.4" y="649.8" font-size="12.6" fill="#2a2e39" text-anchor="middle" >Oct</text>
<text x="720.8" y="649.8" font-size="12.6" fill="#2a2e39" text-anchor="middle" >Nov</text>
<text x="815.1" y="649.8" font-size="12.6" fill="#2a2e39" text-anchor="middle" >Dec</text>
<text x="912.6" y="649.8" font-size="12.6" fill="#2a2e39" font-weight="bold" text-anchor="middle" >2023</text>
<text x="1010.1" y="649.8" font-size="12.6" fill="#2a2e39" text-anchor="middle" >Feb</text>
<text x="1101.2" y="649.8" font-size="12.6" fill="#2a2e39" text-anchor="middle" >2</text>
<text x="1195.6" y="649.8" font-size="12.6" fill="#2a2e39" text-anchor="middle" >Apr</text>
<text x="1289.9" y="649.8" font-size="12.6" fill="#2a2e39" text-anchor="middle" >May</text>
<text x="1387.3" y="649.8" font-size="12.6" fill="#2a2e39" text-anchor="middle" >Jun</text>
<text x="1481.7" y="649.8" font-size="12.6" fill="#2a2e39" text-anchor="middle" >Jul</text>
<text x="37.5" y="684.8" font-size="14.5" fill="#2a2e39" textLength="76.5" lengthAdjust="spacingAndGlyphs" >TradingView</text>
</g>
<g transform="translate(11.6,671.6) scale(0.6)" fill="#131722"><path d="M14 22H7V11H0V4h14v18zM28 22h-8l7.5-18h8L28 22z"/><circle cx="20" cy="8" r="4"/></g>
<path d="M12.5 31.5q2.5 0 3.5 -1.5" stroke="#4caf50" stroke-width="1.2" fill="none"/>
</svg>
</body></html>
